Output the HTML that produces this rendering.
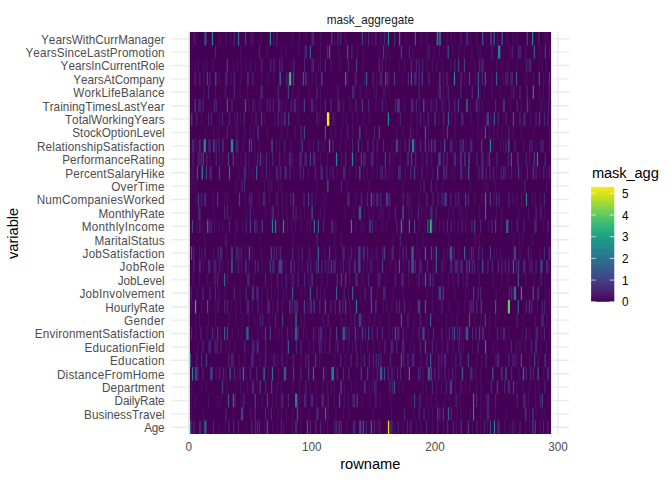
<!DOCTYPE html><html><head><meta charset="utf-8"><style>
html,body{margin:0;padding:0;background:#fff;width:672px;height:480px;overflow:hidden}
body{position:relative;font-family:"Liberation Sans",sans-serif}
.t{position:absolute;white-space:nowrap;font-kerning:none}
</style></head><body><svg width="672" height="480" style="position:absolute;left:0;top:0"><line x1="171.3" x2="569.3" y1="38.70" y2="38.70" stroke="#ebebeb" stroke-width="1.42"/><line x1="171.3" x2="569.3" y1="52.10" y2="52.10" stroke="#ebebeb" stroke-width="1.42"/><line x1="171.3" x2="569.3" y1="65.50" y2="65.50" stroke="#ebebeb" stroke-width="1.42"/><line x1="171.3" x2="569.3" y1="78.90" y2="78.90" stroke="#ebebeb" stroke-width="1.42"/><line x1="171.3" x2="569.3" y1="92.30" y2="92.30" stroke="#ebebeb" stroke-width="1.42"/><line x1="171.3" x2="569.3" y1="105.70" y2="105.70" stroke="#ebebeb" stroke-width="1.42"/><line x1="171.3" x2="569.3" y1="119.10" y2="119.10" stroke="#ebebeb" stroke-width="1.42"/><line x1="171.3" x2="569.3" y1="132.50" y2="132.50" stroke="#ebebeb" stroke-width="1.42"/><line x1="171.3" x2="569.3" y1="145.90" y2="145.90" stroke="#ebebeb" stroke-width="1.42"/><line x1="171.3" x2="569.3" y1="159.30" y2="159.30" stroke="#ebebeb" stroke-width="1.42"/><line x1="171.3" x2="569.3" y1="172.70" y2="172.70" stroke="#ebebeb" stroke-width="1.42"/><line x1="171.3" x2="569.3" y1="186.10" y2="186.10" stroke="#ebebeb" stroke-width="1.42"/><line x1="171.3" x2="569.3" y1="199.50" y2="199.50" stroke="#ebebeb" stroke-width="1.42"/><line x1="171.3" x2="569.3" y1="212.90" y2="212.90" stroke="#ebebeb" stroke-width="1.42"/><line x1="171.3" x2="569.3" y1="226.30" y2="226.30" stroke="#ebebeb" stroke-width="1.42"/><line x1="171.3" x2="569.3" y1="239.70" y2="239.70" stroke="#ebebeb" stroke-width="1.42"/><line x1="171.3" x2="569.3" y1="253.10" y2="253.10" stroke="#ebebeb" stroke-width="1.42"/><line x1="171.3" x2="569.3" y1="266.50" y2="266.50" stroke="#ebebeb" stroke-width="1.42"/><line x1="171.3" x2="569.3" y1="279.90" y2="279.90" stroke="#ebebeb" stroke-width="1.42"/><line x1="171.3" x2="569.3" y1="293.30" y2="293.30" stroke="#ebebeb" stroke-width="1.42"/><line x1="171.3" x2="569.3" y1="306.70" y2="306.70" stroke="#ebebeb" stroke-width="1.42"/><line x1="171.3" x2="569.3" y1="320.10" y2="320.10" stroke="#ebebeb" stroke-width="1.42"/><line x1="171.3" x2="569.3" y1="333.50" y2="333.50" stroke="#ebebeb" stroke-width="1.42"/><line x1="171.3" x2="569.3" y1="346.90" y2="346.90" stroke="#ebebeb" stroke-width="1.42"/><line x1="171.3" x2="569.3" y1="360.30" y2="360.30" stroke="#ebebeb" stroke-width="1.42"/><line x1="171.3" x2="569.3" y1="373.70" y2="373.70" stroke="#ebebeb" stroke-width="1.42"/><line x1="171.3" x2="569.3" y1="387.10" y2="387.10" stroke="#ebebeb" stroke-width="1.42"/><line x1="171.3" x2="569.3" y1="400.50" y2="400.50" stroke="#ebebeb" stroke-width="1.42"/><line x1="171.3" x2="569.3" y1="413.90" y2="413.90" stroke="#ebebeb" stroke-width="1.42"/><line x1="171.3" x2="569.3" y1="427.30" y2="427.30" stroke="#ebebeb" stroke-width="1.42"/><line x1="250.34" x2="250.34" y1="30.66" y2="435.04" stroke="#ebebeb" stroke-width="0.71"/><line x1="373.40" x2="373.40" y1="30.66" y2="435.04" stroke="#ebebeb" stroke-width="0.71"/><line x1="496.47" x2="496.47" y1="30.66" y2="435.04" stroke="#ebebeb" stroke-width="0.71"/><line x1="188.80" x2="188.80" y1="30.66" y2="435.04" stroke="#ebebeb" stroke-width="1.42"/><line x1="311.87" x2="311.87" y1="30.66" y2="435.04" stroke="#ebebeb" stroke-width="1.42"/><line x1="434.94" x2="434.94" y1="30.66" y2="435.04" stroke="#ebebeb" stroke-width="1.42"/><line x1="558.01" x2="558.01" y1="30.66" y2="435.04" stroke="#ebebeb" stroke-width="1.42"/><rect x="189.90" y="32.0" width="361.20" height="402.00" fill="#440154"/><path fill="#471063" d="M195.65 32.00H196.87v13.400H195.65zM218.40 32.00H219.62v13.400H218.40zM225.66 32.00H226.88v13.400H225.66zM229.99 32.00H231.21v13.400H229.99zM249.81 32.00H251.03v13.400H249.81zM251.20 32.00H252.42v13.400H251.20zM252.60 32.00H253.82v13.400H252.60zM260.70 32.00H261.92v13.400H260.70zM272.84 32.00H274.06v13.400H272.84zM240.04 45.40H241.26v13.400H240.04zM266.56 45.40H267.78v13.400H266.56zM194.67 58.80H195.89v13.400H194.67zM197.88 58.80H199.10v13.400H197.88zM203.05 58.80H204.27v13.400H203.05zM206.26 58.80H207.48v13.400H206.26zM212.12 58.80H213.34v13.400H212.12zM232.78 58.80H234.00v13.400H232.78zM236.55 58.80H237.77v13.400H236.55zM240.74 58.80H241.96v13.400H240.74zM245.62 58.80H246.84v13.400H245.62zM249.81 58.80H251.03v13.400H249.81zM254.69 58.80H255.91v13.400H254.69zM203.05 72.20H204.27v13.400H203.05zM218.82 72.20H220.04v13.400H218.82zM230.27 72.20H231.49v13.400H230.27zM240.32 72.20H241.54v13.400H240.32zM260.98 72.20H262.20v13.400H260.98zM267.26 72.20H268.48v13.400H267.26zM273.54 72.20H274.76v13.400H273.54zM203.05 85.60H204.27v13.400H203.05zM214.91 85.60H216.13v13.400H214.91zM224.40 85.60H225.62v13.400H224.40zM225.52 85.60H226.74v13.400H225.52zM239.34 85.60H240.56v13.400H239.34zM247.02 85.60H248.24v13.400H247.02zM291.95 32.00H293.17v13.400H291.95zM298.93 32.00H300.15v13.400H298.93zM305.21 32.00H306.43v13.400H305.21zM319.87 32.00H321.09v13.400H319.87zM333.83 32.00H335.05v13.400H333.83zM345.00 32.00H346.22v13.400H345.00zM364.54 32.00H365.76v13.400H364.54zM280.79 45.40H282.01v13.400H280.79zM285.67 45.40H286.89v13.400H285.67zM297.54 45.40H298.76v13.400H297.54zM319.87 45.40H321.09v13.400H319.87zM338.02 45.40H339.24v13.400H338.02zM356.86 45.40H358.08v13.400H356.86zM363.14 45.40H364.36v13.400H363.14zM291.25 58.80H292.47v13.400H291.25zM317.78 58.80H319.00v13.400H317.78zM319.87 58.80H321.09v13.400H319.87zM331.04 58.80H332.26v13.400H331.04zM339.41 58.80H340.63v13.400H339.41zM362.44 58.80H363.66v13.400H362.44zM307.31 72.20H308.53v13.400H307.31zM311.49 72.20H312.71v13.400H311.49zM315.68 72.20H316.90v13.400H315.68zM347.09 72.20H348.31v13.400H347.09zM356.16 72.20H357.38v13.400H356.16zM363.84 72.20H365.06v13.400H363.84zM291.95 85.60H293.17v13.400H291.95zM297.54 85.60H298.76v13.400H297.54zM308.70 85.60H309.92v13.400H308.70zM319.87 85.60H321.09v13.400H319.87zM359.65 85.60H360.87v13.400H359.65zM365.93 85.60H367.15v13.400H365.93zM371.79 32.00H373.01v13.400H371.79zM379.88 32.00H381.10v13.400H379.88zM382.25 32.00H383.47v13.400H382.25zM405.29 32.00H406.51v13.400H405.29zM420.64 32.00H421.86v13.400H420.64zM426.22 32.00H427.44v13.400H426.22zM446.46 32.00H447.68v13.400H446.46zM450.65 32.00H451.87v13.400H450.65zM454.14 32.00H455.36v13.400H454.14zM459.73 32.00H460.95v13.400H459.73zM378.77 45.40H379.99v13.400H378.77zM385.74 45.40H386.96v13.400H385.74zM388.54 45.40H389.76v13.400H388.54zM412.27 45.40H413.49v13.400H412.27zM425.95 45.40H427.17v13.400H425.95zM433.20 45.40H434.42v13.400H433.20zM438.79 45.40H440.01v13.400H438.79zM452.05 45.40H453.27v13.400H452.05zM458.33 45.40H459.55v13.400H458.33zM385.05 58.80H386.27v13.400H385.05zM399.01 58.80H400.23v13.400H399.01zM403.89 58.80H405.11v13.400H403.89zM426.22 58.80H427.44v13.400H426.22zM431.81 58.80H433.03v13.400H431.81zM436.00 58.80H437.22v13.400H436.00zM441.58 58.80H442.80v13.400H441.58zM449.95 58.80H451.17v13.400H449.95zM375.97 72.20H377.19v13.400H375.97zM388.54 72.20H389.76v13.400H388.54zM402.22 72.20H403.44v13.400H402.22zM442.98 72.20H444.20v13.400H442.98zM459.73 72.20H460.95v13.400H459.73zM373.88 85.60H375.10v13.400H373.88zM375.97 85.60H377.19v13.400H375.97zM382.95 85.60H384.17v13.400H382.95zM384.35 85.60H385.57v13.400H384.35zM437.11 85.60H438.33v13.400H437.11zM442.98 85.60H444.20v13.400H442.98zM460.42 85.60H461.64v13.400H460.42zM460.79 32.00H462.01v13.400H460.79zM469.86 32.00H471.08v13.400H469.86zM476.14 32.00H477.36v13.400H476.14zM485.91 32.00H487.13v13.400H485.91zM496.80 32.00H498.02v13.400H496.80zM506.85 32.00H508.07v13.400H506.85zM512.43 32.00H513.65v13.400H512.43zM516.62 32.00H517.84v13.400H516.62zM544.54 32.00H545.76v13.400H544.54zM547.33 32.00H548.55v13.400H547.33zM463.58 45.40H464.80v13.400H463.58zM471.25 45.40H472.47v13.400H471.25zM477.54 45.40H478.76v13.400H477.54zM479.63 45.40H480.85v13.400H479.63zM509.64 45.40H510.86v13.400H509.64zM525.00 45.40H526.22v13.400H525.00zM539.65 45.40H540.87v13.400H539.65zM548.73 45.40H549.95v13.400H548.73zM474.05 58.80H475.27v13.400H474.05zM496.38 58.80H497.60v13.400H496.38zM501.27 58.80H502.49v13.400H501.27zM507.55 58.80H508.77v13.400H507.55zM516.34 58.80H517.56v13.400H516.34zM541.75 58.80H542.97v13.400H541.75zM545.93 58.80H547.15v13.400H545.93zM464.28 72.20H465.50v13.400H464.28zM474.74 72.20H475.96v13.400H474.74zM491.22 72.20H492.44v13.400H491.22zM502.66 72.20H503.88v13.400H502.66zM525.69 72.20H526.91v13.400H525.69zM532.67 72.20H533.89v13.400H532.67zM543.14 72.20H544.36v13.400H543.14zM479.63 85.60H480.85v13.400H479.63zM483.82 85.60H485.04v13.400H483.82zM491.49 85.60H492.71v13.400H491.49zM499.87 85.60H501.09v13.400H499.87zM511.04 85.60H512.26v13.400H511.04zM538.95 85.60H540.17v13.400H538.95zM543.14 85.60H544.36v13.400H543.14zM248.41 99.00H249.63v13.400H248.41zM254.69 99.00H255.91v13.400H254.69zM258.18 99.00H259.40v13.400H258.18zM260.28 99.00H261.50v13.400H260.28zM200.95 112.40H202.17v13.400H200.95zM219.10 112.40H220.32v13.400H219.10zM233.76 112.40H234.98v13.400H233.76zM239.76 112.40H240.98v13.400H239.76zM251.20 112.40H252.42v13.400H251.20zM263.77 112.40H264.99v13.400H263.77zM274.24 112.40H275.46v13.400H274.24zM205.14 125.80H206.36v13.400H205.14zM212.82 125.80H214.04v13.400H212.82zM217.70 125.80H218.92v13.400H217.70zM230.27 125.80H231.49v13.400H230.27zM235.85 125.80H237.07v13.400H235.85zM237.25 125.80H238.47v13.400H237.25zM244.22 125.80H245.44v13.400H244.22zM249.81 125.80H251.03v13.400H249.81zM253.30 125.80H254.52v13.400H253.30zM266.56 125.80H267.78v13.400H266.56zM196.49 139.20H197.71v13.400H196.49zM242.83 139.20H244.05v13.400H242.83zM254.00 139.20H255.22v13.400H254.00zM258.88 139.20H260.10v13.400H258.88zM275.63 139.20H276.85v13.400H275.63zM279.12 139.20H280.34v13.400H279.12zM209.33 152.60H210.55v13.400H209.33zM219.10 152.60H220.32v13.400H219.10zM221.89 152.60H223.11v13.400H221.89zM236.55 152.60H237.77v13.400H236.55zM240.74 152.60H241.96v13.400H240.74zM248.41 152.60H249.63v13.400H248.41zM254.00 152.60H255.22v13.400H254.00zM262.37 152.60H263.59v13.400H262.37zM268.65 152.60H269.87v13.400H268.65zM281.48 99.00H282.70v13.400H281.48zM284.97 99.00H286.19v13.400H284.97zM297.54 99.00H298.76v13.400H297.54zM315.68 99.00H316.90v13.400H315.68zM319.87 99.00H321.09v13.400H319.87zM342.90 99.00H344.12v13.400H342.90zM349.88 99.00H351.10v13.400H349.88zM280.79 112.40H282.01v13.400H280.79zM297.54 112.40H298.76v13.400H297.54zM319.17 112.40H320.39v13.400H319.17zM334.53 112.40H335.75v13.400H334.53zM342.20 112.40H343.42v13.400H342.20zM345.69 112.40H346.91v13.400H345.69zM351.98 112.40H353.20v13.400H351.98zM356.86 112.40H358.08v13.400H356.86zM363.14 112.40H364.36v13.400H363.14zM368.73 112.40H369.95v13.400H368.73zM280.79 125.80H282.01v13.400H280.79zM287.07 125.80H288.29v13.400H287.07zM294.74 125.80H295.96v13.400H294.74zM330.34 125.80H331.56v13.400H330.34zM335.22 125.80H336.44v13.400H335.22zM340.81 125.80H342.03v13.400H340.81zM351.98 125.80H353.20v13.400H351.98zM365.93 125.80H367.15v13.400H365.93zM289.86 139.20H291.08v13.400H289.86zM299.63 139.20H300.85v13.400H299.63zM308.70 139.20H309.92v13.400H308.70zM312.89 139.20H314.11v13.400H312.89zM321.27 139.20H322.49v13.400H321.27zM324.06 139.20H325.28v13.400H324.06zM339.41 139.20H340.63v13.400H339.41zM345.00 139.20H346.22v13.400H345.00zM361.75 139.20H362.97v13.400H361.75zM283.58 152.60H284.80v13.400H283.58zM291.95 152.60H293.17v13.400H291.95zM319.87 152.60H321.09v13.400H319.87zM326.85 152.60H328.07v13.400H326.85zM340.81 152.60H342.03v13.400H340.81zM355.46 152.60H356.68v13.400H355.46zM370.12 152.60H371.34v13.400H370.12zM375.28 99.00H376.50v13.400H375.28zM385.74 99.00H386.96v13.400H385.74zM403.89 99.00H405.11v13.400H403.89zM418.55 99.00H419.77v13.400H418.55zM426.22 99.00H427.44v13.400H426.22zM432.51 99.00H433.73v13.400H432.51zM444.37 99.00H445.59v13.400H444.37zM410.87 112.40H412.09v13.400H410.87zM416.45 112.40H417.67v13.400H416.45zM423.43 112.40H424.65v13.400H423.43zM438.09 112.40H439.31v13.400H438.09zM450.65 112.40H451.87v13.400H450.65zM454.84 112.40H456.06v13.400H454.84zM396.21 125.80H397.43v13.400H396.21zM402.49 125.80H403.71v13.400H402.49zM416.45 125.80H417.67v13.400H416.45zM427.62 125.80H428.84v13.400H427.62zM442.98 125.80H444.20v13.400H442.98zM454.14 125.80H455.36v13.400H454.14zM391.33 139.20H392.55v13.400H391.33zM399.70 139.20H400.92v13.400H399.70zM415.06 139.20H416.28v13.400H415.06zM440.18 139.20H441.40v13.400H440.18zM455.54 139.20H456.76v13.400H455.54zM376.67 152.60H377.89v13.400H376.67zM393.42 152.60H394.64v13.400H393.42zM399.70 152.60H400.92v13.400H399.70zM422.04 152.60H423.26v13.400H422.04zM430.41 152.60H431.63v13.400H430.41zM469.86 99.00H471.08v13.400H469.86zM478.93 99.00H480.15v13.400H478.93zM481.72 99.00H482.94v13.400H481.72zM509.64 99.00H510.86v13.400H509.64zM520.81 99.00H522.03v13.400H520.81zM529.18 99.00H530.40v13.400H529.18zM539.65 99.00H540.87v13.400H539.65zM541.75 99.00H542.97v13.400H541.75zM544.54 99.00H545.76v13.400H544.54zM470.56 112.40H471.78v13.400H470.56zM477.54 112.40H478.76v13.400H477.54zM490.10 112.40H491.32v13.400H490.10zM529.88 112.40H531.10v13.400H529.88zM477.54 125.80H478.76v13.400H477.54zM481.03 125.80H482.25v13.400H481.03zM488.70 125.80H489.92v13.400H488.70zM492.89 125.80H494.11v13.400H492.89zM497.08 125.80H498.30v13.400H497.08zM501.27 125.80H502.49v13.400H501.27zM512.43 125.80H513.65v13.400H512.43zM520.81 125.80H522.03v13.400H520.81zM533.37 125.80H534.59v13.400H533.37zM548.73 125.80H549.95v13.400H548.73zM465.67 139.20H466.89v13.400H465.67zM492.89 139.20H494.11v13.400H492.89zM499.87 139.20H501.09v13.400H499.87zM502.66 139.20H503.88v13.400H502.66zM522.90 139.20H524.12v13.400H522.90zM535.46 139.20H536.68v13.400H535.46zM548.73 139.20H549.95v13.400H548.73zM486.61 152.60H487.83v13.400H486.61zM529.18 152.60H530.40v13.400H529.18zM191.46 166.00H192.68v13.400H191.46zM193.14 166.00H194.36v13.400H193.14zM237.94 166.00H239.16v13.400H237.94zM248.41 166.00H249.63v13.400H248.41zM251.90 166.00H253.12v13.400H251.90zM261.67 166.00H262.89v13.400H261.67zM269.35 166.00H270.57v13.400H269.35zM279.12 166.00H280.34v13.400H279.12zM191.18 179.40H192.40v13.400H191.18zM194.67 179.40H195.89v13.400H194.67zM235.15 179.40H236.37v13.400H235.15zM263.77 179.40H264.99v13.400H263.77zM267.95 179.40H269.17v13.400H267.95zM270.75 179.40H271.97v13.400H270.75zM277.73 179.40H278.95v13.400H277.73zM195.37 192.80H196.59v13.400H195.37zM212.82 192.80H214.04v13.400H212.82zM224.40 192.80H225.62v13.400H224.40zM226.78 192.80H228.00v13.400H226.78zM244.22 192.80H245.44v13.400H244.22zM258.88 192.80H260.10v13.400H258.88zM268.65 192.80H269.87v13.400H268.65zM213.52 206.20H214.74v13.400H213.52zM230.27 206.20H231.49v13.400H230.27zM245.62 206.20H246.84v13.400H245.62zM265.16 206.20H266.38v13.400H265.16zM277.73 206.20H278.95v13.400H277.73zM196.49 219.60H197.71v13.400H196.49zM202.35 219.60H203.57v13.400H202.35zM214.21 219.60H215.43v13.400H214.21zM218.40 219.60H219.62v13.400H218.40zM221.89 219.60H223.11v13.400H221.89zM235.15 219.60H236.37v13.400H235.15zM236.55 219.60H237.77v13.400H236.55zM242.13 219.60H243.35v13.400H242.13zM257.07 219.60H258.29v13.400H257.07zM278.42 219.60H279.64v13.400H278.42zM293.35 166.00H294.57v13.400H293.35zM308.01 166.00H309.23v13.400H308.01zM329.64 166.00H330.86v13.400H329.64zM336.62 166.00H337.84v13.400H336.62zM349.18 166.00H350.40v13.400H349.18zM355.46 166.00H356.68v13.400H355.46zM363.14 166.00H364.36v13.400H363.14zM366.63 166.00H367.85v13.400H366.63zM280.79 179.40H282.01v13.400H280.79zM316.38 179.40H317.60v13.400H316.38zM346.39 179.40H347.61v13.400H346.39zM368.73 179.40H369.95v13.400H368.73zM281.90 192.80H283.12v13.400H281.90zM286.37 192.80H287.59v13.400H286.37zM314.98 192.80H316.20v13.400H314.98zM322.66 192.80H323.88v13.400H322.66zM325.45 192.80H326.67v13.400H325.45zM355.46 192.80H356.68v13.400H355.46zM281.90 206.20H283.12v13.400H281.90zM286.37 206.20H287.59v13.400H286.37zM299.63 206.20H300.85v13.400H299.63zM303.82 206.20H305.04v13.400H303.82zM319.87 206.20H321.09v13.400H319.87zM324.06 206.20H325.28v13.400H324.06zM344.72 206.20H345.94v13.400H344.72zM353.37 206.20H354.59v13.400H353.37zM363.84 206.20H365.06v13.400H363.84zM368.73 206.20H369.95v13.400H368.73zM287.07 219.60H288.29v13.400H287.07zM291.25 219.60H292.47v13.400H291.25zM294.74 219.60H295.96v13.400H294.74zM300.33 219.60H301.55v13.400H300.33zM306.61 219.60H307.83v13.400H306.61zM309.82 219.60H311.04v13.400H309.82zM335.22 219.60H336.44v13.400H335.22zM354.77 219.60H355.99v13.400H354.77zM360.35 219.60H361.57v13.400H360.35zM363.14 219.60H364.36v13.400H363.14zM371.79 166.00H373.01v13.400H371.79zM376.67 166.00H377.89v13.400H376.67zM388.54 166.00H389.76v13.400H388.54zM391.33 166.00H392.55v13.400H391.33zM404.59 166.00H405.81v13.400H404.59zM417.15 166.00H418.37v13.400H417.15zM426.22 166.00H427.44v13.400H426.22zM431.81 166.00H433.03v13.400H431.81zM451.35 166.00H452.57v13.400H451.35zM454.14 166.00H455.36v13.400H454.14zM402.49 179.40H403.71v13.400H402.49zM419.94 179.40H421.16v13.400H419.94zM436.00 179.40H437.22v13.400H436.00zM441.58 179.40H442.80v13.400H441.58zM410.17 192.80H411.39v13.400H410.17zM418.55 192.80H419.77v13.400H418.55zM372.48 206.20H373.70v13.400H372.48zM378.07 206.20H379.29v13.400H378.07zM380.16 206.20H381.38v13.400H380.16zM382.25 206.20H383.47v13.400H382.25zM388.54 206.20H389.76v13.400H388.54zM408.08 206.20H409.30v13.400H408.08zM410.87 206.20H412.09v13.400H410.87zM420.64 206.20H421.86v13.400H420.64zM425.53 206.20H426.75v13.400H425.53zM447.86 206.20H449.08v13.400H447.86zM452.75 206.20H453.97v13.400H452.75zM459.03 206.20H460.25v13.400H459.03zM375.28 219.60H376.50v13.400H375.28zM381.56 219.60H382.78v13.400H381.56zM385.74 219.60H386.96v13.400H385.74zM402.49 219.60H403.71v13.400H402.49zM418.55 219.60H419.77v13.400H418.55zM424.13 219.60H425.35v13.400H424.13zM434.60 219.60H435.82v13.400H434.60zM438.79 219.60H440.01v13.400H438.79zM442.98 219.60H444.20v13.400H442.98zM454.14 219.60H455.36v13.400H454.14zM457.63 219.60H458.85v13.400H457.63zM464.97 166.00H466.19v13.400H464.97zM495.96 166.00H497.18v13.400H495.96zM507.55 166.00H508.77v13.400H507.55zM514.53 166.00H515.75v13.400H514.53zM520.81 166.00H522.03v13.400H520.81zM538.95 166.00H540.17v13.400H538.95zM545.93 166.00H547.15v13.400H545.93zM469.86 179.40H471.08v13.400H469.86zM484.52 179.40H485.74v13.400H484.52zM487.31 179.40H488.53v13.400H487.31zM494.98 179.40H496.20v13.400H494.98zM545.93 179.40H547.15v13.400H545.93zM474.05 192.80H475.27v13.400H474.05zM481.03 192.80H482.25v13.400H481.03zM493.59 192.80H494.81v13.400H493.59zM511.74 192.80H512.96v13.400H511.74zM516.62 192.80H517.84v13.400H516.62zM520.81 192.80H522.03v13.400H520.81zM531.98 192.80H533.20v13.400H531.98zM534.77 192.80H535.99v13.400H534.77zM539.65 192.80H540.87v13.400H539.65zM461.48 206.20H462.70v13.400H461.48zM465.67 206.20H466.89v13.400H465.67zM478.93 206.20H480.15v13.400H478.93zM495.68 206.20H496.90v13.400H495.68zM501.27 206.20H502.49v13.400H501.27zM518.02 206.20H519.24v13.400H518.02zM527.79 206.20H529.01v13.400H527.79zM544.54 206.20H545.76v13.400H544.54zM464.97 219.60H466.19v13.400H464.97zM488.01 219.60H489.23v13.400H488.01zM500.57 219.60H501.79v13.400H500.57zM511.04 219.60H512.26v13.400H511.04zM543.14 219.60H544.36v13.400H543.14zM204.44 233.00H205.66v13.400H204.44zM234.45 233.00H235.67v13.400H234.45zM198.86 246.40H200.08v13.400H198.86zM201.23 246.40H202.45v13.400H201.23zM212.82 246.40H214.04v13.400H212.82zM226.08 246.40H227.30v13.400H226.08zM238.92 246.40H240.14v13.400H238.92zM244.92 246.40H246.14v13.400H244.92zM251.90 246.40H253.12v13.400H251.90zM260.28 246.40H261.50v13.400H260.28zM279.12 246.40H280.34v13.400H279.12zM202.35 259.80H203.57v13.400H202.35zM221.89 259.80H223.11v13.400H221.89zM226.78 259.80H228.00v13.400H226.78zM235.15 259.80H236.37v13.400H235.15zM240.74 259.80H241.96v13.400H240.74zM248.41 259.80H249.63v13.400H248.41zM261.67 259.80H262.89v13.400H261.67zM192.58 273.20H193.80v13.400H192.58zM198.86 273.20H200.08v13.400H198.86zM206.54 273.20H207.76v13.400H206.54zM226.78 273.20H228.00v13.400H226.78zM252.60 273.20H253.82v13.400H252.60zM270.75 273.20H271.97v13.400H270.75zM196.77 286.60H197.99v13.400H196.77zM218.40 286.60H219.62v13.400H218.40zM224.68 286.60H225.90v13.400H224.68zM239.34 286.60H240.56v13.400H239.34zM261.67 286.60H262.89v13.400H261.67zM266.56 286.60H267.78v13.400H266.56zM270.75 286.60H271.97v13.400H270.75zM277.73 286.60H278.95v13.400H277.73zM292.65 233.00H293.87v13.400H292.65zM333.83 233.00H335.05v13.400H333.83zM340.81 233.00H342.03v13.400H340.81zM298.23 246.40H299.45v13.400H298.23zM324.06 246.40H325.28v13.400H324.06zM335.22 246.40H336.44v13.400H335.22zM347.09 246.40H348.31v13.400H347.09zM354.77 246.40H355.99v13.400H354.77zM284.97 259.80H286.19v13.400H284.97zM298.23 259.80H299.45v13.400H298.23zM301.72 259.80H302.94v13.400H301.72zM313.59 259.80H314.81v13.400H313.59zM340.11 259.80H341.33v13.400H340.11zM346.39 259.80H347.61v13.400H346.39zM363.14 259.80H364.36v13.400H363.14zM366.63 259.80H367.85v13.400H366.63zM281.48 273.20H282.70v13.400H281.48zM290.56 273.20H291.78v13.400H290.56zM308.70 273.20H309.92v13.400H308.70zM321.27 273.20H322.49v13.400H321.27zM326.85 273.20H328.07v13.400H326.85zM349.18 273.20H350.40v13.400H349.18zM361.75 273.20H362.97v13.400H361.75zM282.88 286.60H284.10v13.400H282.88zM285.67 286.60H286.89v13.400H285.67zM300.33 286.60H301.55v13.400H300.33zM304.52 286.60H305.74v13.400H304.52zM319.87 286.60H321.09v13.400H319.87zM324.06 286.60H325.28v13.400H324.06zM347.79 286.60H349.01v13.400H347.79zM360.35 286.60H361.57v13.400H360.35zM392.72 233.00H393.94v13.400H392.72zM416.45 233.00H417.67v13.400H416.45zM422.04 233.00H423.26v13.400H422.04zM447.86 233.00H449.08v13.400H447.86zM371.79 246.40H373.01v13.400H371.79zM375.28 246.40H376.50v13.400H375.28zM376.67 246.40H377.89v13.400H376.67zM399.01 246.40H400.23v13.400H399.01zM416.45 246.40H417.67v13.400H416.45zM419.25 246.40H420.47v13.400H419.25zM433.20 246.40H434.42v13.400H433.20zM442.98 246.40H444.20v13.400H442.98zM446.46 246.40H447.68v13.400H446.46zM458.33 246.40H459.55v13.400H458.33zM371.79 259.80H373.01v13.400H371.79zM377.37 259.80H378.59v13.400H377.37zM389.93 259.80H391.15v13.400H389.93zM394.82 259.80H396.04v13.400H394.82zM402.49 259.80H403.71v13.400H402.49zM432.51 259.80H433.73v13.400H432.51zM444.37 259.80H445.59v13.400H444.37zM385.05 273.20H386.27v13.400H385.05zM408.08 273.20H409.30v13.400H408.08zM416.45 273.20H417.67v13.400H416.45zM422.04 273.20H423.26v13.400H422.04zM427.62 273.20H428.84v13.400H427.62zM441.58 273.20H442.80v13.400H441.58zM447.86 273.20H449.08v13.400H447.86zM452.75 273.20H453.97v13.400H452.75zM376.67 286.60H377.89v13.400H376.67zM392.72 286.60H393.94v13.400H392.72zM402.49 286.60H403.71v13.400H402.49zM426.22 286.60H427.44v13.400H426.22zM431.81 286.60H433.03v13.400H431.81zM454.14 286.60H455.36v13.400H454.14zM474.74 233.00H475.96v13.400H474.74zM478.93 233.00H480.15v13.400H478.93zM513.13 233.00H514.35v13.400H513.13zM518.71 233.00H519.93v13.400H518.71zM521.51 233.00H522.73v13.400H521.51zM531.98 233.00H533.20v13.400H531.98zM546.63 233.00H547.85v13.400H546.63zM493.59 246.40H494.81v13.400H493.59zM496.38 246.40H497.60v13.400H496.38zM499.87 246.40H501.09v13.400H499.87zM519.41 246.40H520.63v13.400H519.41zM530.58 246.40H531.80v13.400H530.58zM539.65 246.40H540.87v13.400H539.65zM477.54 259.80H478.76v13.400H477.54zM462.88 273.20H464.10v13.400H462.88zM478.93 273.20H480.15v13.400H478.93zM492.89 273.20H494.11v13.400H492.89zM501.27 273.20H502.49v13.400H501.27zM507.55 273.20H508.77v13.400H507.55zM525.00 273.20H526.22v13.400H525.00zM533.37 273.20H534.59v13.400H533.37zM544.54 273.20H545.76v13.400H544.54zM464.97 286.60H466.19v13.400H464.97zM495.68 286.60H496.90v13.400H495.68zM544.54 286.60H545.76v13.400H544.54zM548.73 286.60H549.95v13.400H548.73zM191.18 300.00H192.40v13.400H191.18zM200.95 300.00H202.17v13.400H200.95zM214.21 300.00H215.43v13.400H214.21zM216.31 300.00H217.53v13.400H216.31zM217.98 300.00H219.20v13.400H217.98zM230.27 300.00H231.49v13.400H230.27zM235.85 300.00H237.07v13.400H235.85zM240.04 300.00H241.26v13.400H240.04zM251.90 300.00H253.12v13.400H251.90zM260.98 300.00H262.20v13.400H260.98zM272.14 300.00H273.36v13.400H272.14zM195.37 313.40H196.59v13.400H195.37zM198.86 313.40H200.08v13.400H198.86zM207.93 313.40H209.15v13.400H207.93zM214.91 313.40H216.13v13.400H214.91zM228.17 313.40H229.39v13.400H228.17zM235.15 313.40H236.37v13.400H235.15zM242.13 313.40H243.35v13.400H242.13zM248.41 313.40H249.63v13.400H248.41zM254.00 313.40H255.22v13.400H254.00zM269.35 313.40H270.57v13.400H269.35zM195.37 326.80H196.59v13.400H195.37zM206.54 326.80H207.76v13.400H206.54zM213.79 326.80H215.01v13.400H213.79zM219.80 326.80H221.02v13.400H219.80zM231.66 326.80H232.88v13.400H231.66zM237.94 326.80H239.16v13.400H237.94zM241.43 326.80H242.65v13.400H241.43zM251.20 326.80H252.42v13.400H251.20zM257.49 326.80H258.71v13.400H257.49zM261.67 326.80H262.89v13.400H261.67zM274.93 326.80H276.15v13.400H274.93zM278.42 326.80H279.64v13.400H278.42zM197.46 340.20H198.68v13.400H197.46zM217.70 340.20H218.92v13.400H217.70zM225.38 340.20H226.60v13.400H225.38zM228.87 340.20H230.09v13.400H228.87zM234.45 340.20H235.67v13.400H234.45zM238.64 353.60H239.86v13.400H238.64zM244.22 353.60H245.44v13.400H244.22zM253.44 353.60H254.66v13.400H253.44zM259.58 353.60H260.80v13.400H259.58zM276.33 353.60H277.55v13.400H276.33zM281.90 300.00H283.12v13.400H281.90zM306.61 300.00H307.83v13.400H306.61zM349.18 300.00H350.40v13.400H349.18zM290.56 313.40H291.78v13.400H290.56zM300.33 313.40H301.55v13.400H300.33zM303.82 313.40H305.04v13.400H303.82zM322.66 313.40H323.88v13.400H322.66zM340.81 313.40H342.03v13.400H340.81zM345.00 313.40H346.22v13.400H345.00zM350.58 313.40H351.80v13.400H350.58zM363.14 313.40H364.36v13.400H363.14zM368.73 313.40H369.95v13.400H368.73zM281.48 326.80H282.70v13.400H281.48zM291.25 326.80H292.47v13.400H291.25zM303.12 326.80H304.34v13.400H303.12zM305.91 326.80H307.13v13.400H305.91zM314.98 326.80H316.20v13.400H314.98zM324.76 326.80H325.98v13.400H324.76zM357.56 326.80H358.78v13.400H357.56zM281.48 340.20H282.70v13.400H281.48zM308.70 340.20H309.92v13.400H308.70zM312.89 340.20H314.11v13.400H312.89zM324.06 340.20H325.28v13.400H324.06zM335.22 340.20H336.44v13.400H335.22zM342.90 340.20H344.12v13.400H342.90zM347.79 340.20H349.01v13.400H347.79zM351.98 340.20H353.20v13.400H351.98zM360.35 340.20H361.57v13.400H360.35zM366.63 340.20H367.85v13.400H366.63zM286.37 353.60H287.59v13.400H286.37zM300.33 353.60H301.55v13.400H300.33zM319.17 353.60H320.39v13.400H319.17zM333.83 353.60H335.05v13.400H333.83zM345.00 353.60H346.22v13.400H345.00zM361.05 353.60H362.27v13.400H361.05zM382.95 300.00H384.17v13.400H382.95zM386.44 300.00H387.66v13.400H386.44zM391.33 300.00H392.55v13.400H391.33zM409.47 300.00H410.69v13.400H409.47zM431.81 300.00H433.03v13.400H431.81zM448.56 300.00H449.78v13.400H448.56zM457.63 300.00H458.85v13.400H457.63zM373.88 313.40H375.10v13.400H373.88zM378.77 313.40H379.99v13.400H378.77zM388.54 313.40H389.76v13.400H388.54zM413.66 313.40H414.88v13.400H413.66zM426.22 313.40H427.44v13.400H426.22zM445.77 313.40H446.99v13.400H445.77zM451.35 313.40H452.57v13.400H451.35zM456.24 313.40H457.46v13.400H456.24zM388.54 326.80H389.76v13.400H388.54zM392.03 326.80H393.25v13.400H392.03zM405.98 326.80H407.20v13.400H405.98zM412.27 326.80H413.49v13.400H412.27zM427.62 326.80H428.84v13.400H427.62zM445.77 326.80H446.99v13.400H445.77zM373.18 340.20H374.40v13.400H373.18zM378.77 340.20H379.99v13.400H378.77zM409.47 340.20H410.69v13.400H409.47zM413.66 340.20H414.88v13.400H413.66zM436.00 340.20H437.22v13.400H436.00zM441.58 340.20H442.80v13.400H441.58zM452.75 340.20H453.97v13.400H452.75zM420.64 353.60H421.86v13.400H420.64zM451.35 353.60H452.57v13.400H451.35zM464.28 300.00H465.50v13.400H464.28zM536.86 300.00H538.08v13.400H536.86zM548.73 300.00H549.95v13.400H548.73zM474.05 313.40H475.27v13.400H474.05zM480.33 313.40H481.55v13.400H480.33zM488.70 313.40H489.92v13.400H488.70zM494.98 313.40H496.20v13.400H494.98zM522.90 313.40H524.12v13.400H522.90zM534.77 313.40H535.99v13.400H534.77zM546.63 313.40H547.85v13.400H546.63zM460.79 326.80H462.01v13.400H460.79zM463.58 326.80H464.80v13.400H463.58zM488.70 326.80H489.92v13.400H488.70zM500.15 326.80H501.37v13.400H500.15zM508.25 326.80H509.47v13.400H508.25zM521.51 326.80H522.73v13.400H521.51zM529.18 326.80H530.40v13.400H529.18zM540.35 326.80H541.57v13.400H540.35zM548.73 326.80H549.95v13.400H548.73zM460.79 340.20H462.01v13.400H460.79zM462.88 340.20H464.10v13.400H462.88zM471.95 340.20H473.17v13.400H471.95zM492.89 340.20H494.11v13.400H492.89zM496.80 340.20H498.02v13.400H496.80zM505.45 340.20H506.67v13.400H505.45zM515.92 340.20H517.14v13.400H515.92zM519.41 340.20H520.63v13.400H519.41zM525.00 340.20H526.22v13.400H525.00zM540.35 340.20H541.57v13.400H540.35zM545.93 340.20H547.15v13.400H545.93zM461.48 353.60H462.70v13.400H461.48zM476.14 353.60H477.36v13.400H476.14zM481.03 353.60H482.25v13.400H481.03zM494.98 353.60H496.20v13.400H494.98zM516.90 353.60H518.12v13.400H516.90zM529.18 353.60H530.40v13.400H529.18zM537.56 353.60H538.78v13.400H537.56zM548.73 353.60H549.95v13.400H548.73zM215.61 367.00H216.83v13.400H215.61zM225.38 367.00H226.60v13.400H225.38zM236.55 367.00H237.77v13.400H236.55zM245.62 367.00H246.84v13.400H245.62zM267.95 367.00H269.17v13.400H267.95zM277.73 367.00H278.95v13.400H277.73zM191.18 380.40H192.40v13.400H191.18zM200.95 380.40H202.17v13.400H200.95zM205.84 380.40H207.06v13.400H205.84zM226.08 380.40H227.30v13.400H226.08zM235.85 380.40H237.07v13.400H235.85zM240.04 380.40H241.26v13.400H240.04zM247.02 380.40H248.24v13.400H247.02zM256.79 380.40H258.01v13.400H256.79zM276.33 380.40H277.55v13.400H276.33zM190.48 393.80H191.70v13.400H190.48zM194.67 393.80H195.89v13.400H194.67zM207.93 393.80H209.15v13.400H207.93zM217.01 393.80H218.23v13.400H217.01zM220.49 393.80H221.71v13.400H220.49zM241.43 393.80H242.65v13.400H241.43zM261.67 393.80H262.89v13.400H261.67zM272.14 393.80H273.36v13.400H272.14zM275.63 393.80H276.85v13.400H275.63zM190.48 407.20H191.70v13.400H190.48zM202.35 407.20H203.57v13.400H202.35zM233.06 407.20H234.28v13.400H233.06zM249.81 407.20H251.03v13.400H249.81zM267.95 407.20H269.17v13.400H267.95zM277.73 407.20H278.95v13.400H277.73zM218.40 420.60H219.62v13.400H218.40zM224.68 420.60H225.90v13.400H224.68zM245.62 420.60H246.84v13.400H245.62zM264.46 420.60H265.68v13.400H264.46zM272.14 420.60H273.36v13.400H272.14zM276.33 420.60H277.55v13.400H276.33zM325.45 367.00H326.67v13.400H325.45zM280.79 380.40H282.01v13.400H280.79zM291.95 380.40H293.17v13.400H291.95zM298.93 380.40H300.15v13.400H298.93zM309.40 380.40H310.62v13.400H309.40zM314.98 380.40H316.20v13.400H314.98zM321.96 380.40H323.18v13.400H321.96zM326.85 380.40H328.07v13.400H326.85zM330.76 380.40H331.98v13.400H330.76zM333.83 380.40H335.05v13.400H333.83zM343.60 380.40H344.82v13.400H343.60zM350.58 380.40H351.80v13.400H350.58zM355.46 380.40H356.68v13.400H355.46zM368.73 380.40H369.95v13.400H368.73zM298.93 393.80H300.15v13.400H298.93zM316.38 393.80H317.60v13.400H316.38zM333.83 393.80H335.05v13.400H333.83zM343.60 393.80H344.82v13.400H343.60zM347.79 393.80H349.01v13.400H347.79zM361.75 393.80H362.97v13.400H361.75zM369.42 393.80H370.64v13.400H369.42zM280.79 407.20H282.01v13.400H280.79zM285.67 407.20H286.89v13.400H285.67zM291.95 407.20H293.17v13.400H291.95zM300.33 407.20H301.55v13.400H300.33zM308.70 407.20H309.92v13.400H308.70zM321.27 407.20H322.49v13.400H321.27zM327.55 407.20H328.77v13.400H327.55zM335.22 407.20H336.44v13.400H335.22zM342.90 407.20H344.12v13.400H342.90zM349.18 407.20H350.40v13.400H349.18zM282.88 420.60H284.10v13.400H282.88zM291.95 420.60H293.17v13.400H291.95zM300.33 420.60H301.55v13.400H300.33zM322.66 420.60H323.88v13.400H322.66zM326.85 420.60H328.07v13.400H326.85zM346.39 420.60H347.61v13.400H346.39zM372.48 367.00H373.70v13.400H372.48zM393.42 367.00H394.64v13.400H393.42zM405.29 367.00H406.51v13.400H405.29zM422.74 367.00H423.96v13.400H422.74zM440.88 367.00H442.10v13.400H440.88zM447.86 367.00H449.08v13.400H447.86zM454.84 367.00H456.06v13.400H454.84zM371.79 380.40H373.01v13.400H371.79zM398.31 380.40H399.53v13.400H398.31zM402.49 380.40H403.71v13.400H402.49zM422.04 380.40H423.26v13.400H422.04zM425.95 380.40H427.17v13.400H425.95zM436.00 380.40H437.22v13.400H436.00zM440.88 380.40H442.10v13.400H440.88zM454.84 380.40H456.06v13.400H454.84zM459.73 380.40H460.95v13.400H459.73zM379.46 393.80H380.68v13.400H379.46zM389.93 393.80H391.15v13.400H389.93zM410.87 393.80H412.09v13.400H410.87zM418.55 393.80H419.77v13.400H418.55zM426.92 393.80H428.14v13.400H426.92zM430.41 393.80H431.63v13.400H430.41zM436.00 393.80H437.22v13.400H436.00zM444.37 393.80H445.59v13.400H444.37zM449.26 393.80H450.48v13.400H449.26zM458.33 393.80H459.55v13.400H458.33zM373.18 407.20H374.40v13.400H373.18zM391.05 407.20H392.27v13.400H391.05zM413.66 407.20H414.88v13.400H413.66zM427.62 407.20H428.84v13.400H427.62zM431.81 407.20H433.03v13.400H431.81zM456.93 407.20H458.15v13.400H456.93zM460.42 407.20H461.64v13.400H460.42zM376.67 420.60H377.89v13.400H376.67zM394.12 420.60H395.34v13.400H394.12zM402.49 420.60H403.71v13.400H402.49zM415.76 420.60H416.98v13.400H415.76zM420.64 420.60H421.86v13.400H420.64zM431.81 420.60H433.03v13.400H431.81zM442.98 420.60H444.20v13.400H442.98zM455.54 420.60H456.76v13.400H455.54zM459.73 420.60H460.95v13.400H459.73zM474.74 367.00H475.96v13.400H474.74zM479.63 367.00H480.85v13.400H479.63zM518.02 367.00H519.24v13.400H518.02zM543.14 367.00H544.36v13.400H543.14zM460.79 380.40H462.01v13.400H460.79zM464.97 380.40H466.19v13.400H464.97zM469.16 380.40H470.38v13.400H469.16zM476.14 380.40H477.36v13.400H476.14zM480.33 380.40H481.55v13.400H480.33zM516.62 380.40H517.84v13.400H516.62zM522.20 380.40H523.42v13.400H522.20zM529.18 380.40H530.40v13.400H529.18zM534.77 380.40H535.99v13.400H534.77zM538.26 380.40H539.48v13.400H538.26zM480.33 393.80H481.55v13.400H480.33zM484.52 393.80H485.74v13.400H484.52zM527.79 393.80H529.01v13.400H527.79zM534.77 393.80H535.99v13.400H534.77zM547.33 393.80H548.55v13.400H547.33zM469.86 407.20H471.08v13.400H469.86zM480.33 407.20H481.55v13.400H480.33zM494.98 407.20H496.20v13.400H494.98zM505.45 407.20H506.67v13.400H505.45zM528.90 407.20H530.12v13.400H528.90zM535.46 407.20H536.68v13.400H535.46zM541.75 407.20H542.97v13.400H541.75zM544.54 407.20H545.76v13.400H544.54zM471.95 420.60H473.17v13.400H471.95zM480.33 420.60H481.55v13.400H480.33zM486.61 420.60H487.83v13.400H486.61zM504.06 420.60H505.28v13.400H504.06zM509.64 420.60H510.86v13.400H509.64zM515.22 420.60H516.44v13.400H515.22zM525.00 420.60H526.22v13.400H525.00zM529.18 420.60H530.40v13.400H529.18zM539.65 420.60H540.87v13.400H539.65z"/><path fill="#482576" d="M193.42 32.00H194.64v13.400H193.42zM233.76 32.00H234.98v13.400H233.76zM276.33 32.00H277.55v13.400H276.33zM214.91 45.40H216.13v13.400H214.91zM258.88 45.40H260.10v13.400H258.88zM260.98 58.80H262.20v13.400H260.98zM270.05 58.80H271.27v13.400H270.05zM273.54 58.80H274.76v13.400H273.54zM279.12 58.80H280.34v13.400H279.12zM194.67 72.20H195.89v13.400H194.67zM199.28 72.20H200.50v13.400H199.28zM209.33 72.20H210.55v13.400H209.33zM225.24 72.20H226.46v13.400H225.24zM226.36 72.20H227.58v13.400H226.36zM233.76 72.20H234.98v13.400H233.76zM252.32 72.20H253.54v13.400H252.32zM207.93 85.60H209.15v13.400H207.93zM233.76 85.60H234.98v13.400H233.76zM260.28 85.60H261.50v13.400H260.28zM261.67 85.60H262.89v13.400H261.67zM277.73 85.60H278.95v13.400H277.73zM311.49 32.00H312.71v13.400H311.49zM312.89 32.00H314.11v13.400H312.89zM337.32 32.00H338.54v13.400H337.32zM340.11 32.00H341.33v13.400H340.11zM368.03 32.00H369.25v13.400H368.03zM304.52 45.40H305.74v13.400H304.52zM305.91 45.40H307.13v13.400H305.91zM326.85 45.40H328.07v13.400H326.85zM351.28 45.40H352.50v13.400H351.28zM281.48 58.80H282.70v13.400H281.48zM293.35 58.80H294.57v13.400H293.35zM303.82 58.80H305.04v13.400H303.82zM311.49 58.80H312.71v13.400H311.49zM312.89 58.80H314.11v13.400H312.89zM324.76 58.80H325.98v13.400H324.76zM347.79 58.80H349.01v13.400H347.79zM286.09 72.20H287.31v13.400H286.09zM354.77 72.20H355.99v13.400H354.77zM316.38 85.60H317.60v13.400H316.38zM337.32 85.60H338.54v13.400H337.32zM351.98 85.60H353.20v13.400H351.98zM353.37 85.60H354.59v13.400H353.37zM375.28 32.00H376.50v13.400H375.28zM384.07 32.00H385.29v13.400H384.07zM394.12 32.00H395.34v13.400H394.12zM408.78 45.40H410.00v13.400H408.78zM428.32 45.40H429.54v13.400H428.32zM378.77 58.80H379.99v13.400H378.77zM381.56 58.80H382.78v13.400H381.56zM410.87 58.80H412.09v13.400H410.87zM415.76 58.80H416.98v13.400H415.76zM418.55 58.80H419.77v13.400H418.55zM422.04 58.80H423.26v13.400H422.04zM454.14 58.80H455.36v13.400H454.14zM372.48 72.20H373.70v13.400H372.48zM379.46 72.20H380.68v13.400H379.46zM381.00 72.20H382.22v13.400H381.00zM386.86 72.20H388.08v13.400H386.86zM407.80 72.20H409.02v13.400H407.80zM414.08 72.20H415.30v13.400H414.08zM415.34 72.20H416.56v13.400H415.34zM418.55 72.20H419.77v13.400H418.55zM428.32 72.20H429.54v13.400H428.32zM446.46 72.20H447.68v13.400H446.46zM418.55 85.60H419.77v13.400H418.55zM438.93 85.60H440.15v13.400H438.93zM440.04 85.60H441.26v13.400H440.04zM447.58 85.60H448.80v13.400H447.58zM465.67 32.00H466.89v13.400H465.67zM467.07 32.00H468.29v13.400H467.07zM538.26 32.00H539.48v13.400H538.26zM491.49 45.40H492.71v13.400H491.49zM511.74 45.40H512.96v13.400H511.74zM518.02 45.40H519.24v13.400H518.02zM519.69 45.40H520.91v13.400H519.69zM478.93 58.80H480.15v13.400H478.93zM481.17 58.80H482.39v13.400H481.17zM482.42 58.80H483.64v13.400H482.42zM526.11 58.80H527.33v13.400H526.11zM528.63 58.80H529.85v13.400H528.63zM530.02 58.80H531.24v13.400H530.02zM460.79 72.20H462.01v13.400H460.79zM481.72 72.20H482.94v13.400H481.72zM505.17 72.20H506.39v13.400H505.17zM507.13 72.20H508.35v13.400H507.13zM510.48 72.20H511.70v13.400H510.48zM511.74 72.20H512.96v13.400H511.74zM460.09 85.60H461.31v13.400H460.09zM471.67 85.60H472.89v13.400H471.67zM513.13 85.60H514.35v13.400H513.13zM519.41 85.60H520.63v13.400H519.41zM526.39 85.60H527.61v13.400H526.39zM548.73 85.60H549.95v13.400H548.73zM198.16 99.00H199.38v13.400H198.16zM199.56 99.00H200.78v13.400H199.56zM202.35 99.00H203.57v13.400H202.35zM213.79 99.00H215.01v13.400H213.79zM215.61 99.00H216.83v13.400H215.61zM231.38 99.00H232.60v13.400H231.38zM252.60 99.00H253.82v13.400H252.60zM266.56 99.00H267.78v13.400H266.56zM269.35 99.00H270.57v13.400H269.35zM272.84 99.00H274.06v13.400H272.84zM277.73 99.00H278.95v13.400H277.73zM279.12 99.00H280.34v13.400H279.12zM196.07 112.40H197.29v13.400H196.07zM207.93 112.40H209.15v13.400H207.93zM210.72 112.40H211.94v13.400H210.72zM221.89 112.40H223.11v13.400H221.89zM228.87 112.40H230.09v13.400H228.87zM236.55 112.40H237.77v13.400H236.55zM243.53 112.40H244.75v13.400H243.53zM255.39 112.40H256.61v13.400H255.39zM277.73 112.40H278.95v13.400H277.73zM226.78 125.80H228.00v13.400H226.78zM191.88 139.20H193.10v13.400H191.88zM193.28 139.20H194.50v13.400H193.28zM208.21 139.20H209.43v13.400H208.21zM209.61 139.20H210.83v13.400H209.61zM215.61 139.20H216.83v13.400H215.61zM218.40 139.20H219.62v13.400H218.40zM235.85 139.20H237.07v13.400H235.85zM237.25 139.20H238.47v13.400H237.25zM192.58 152.60H193.80v13.400H192.58zM197.60 152.60H198.82v13.400H197.60zM199.28 152.60H200.50v13.400H199.28zM200.95 152.60H202.17v13.400H200.95zM206.26 152.60H207.48v13.400H206.26zM215.61 152.60H216.83v13.400H215.61zM244.92 152.60H246.14v13.400H244.92zM257.07 152.60H258.29v13.400H257.07zM265.86 152.60H267.08v13.400H265.86zM272.14 152.60H273.36v13.400H272.14zM279.12 152.60H280.34v13.400H279.12zM290.56 99.00H291.78v13.400H290.56zM293.63 99.00H294.85v13.400H293.63zM294.88 99.00H296.10v13.400H294.88zM310.94 99.00H312.16v13.400H310.94zM312.19 99.00H313.41v13.400H312.19zM324.76 99.00H325.98v13.400H324.76zM330.34 99.00H331.56v13.400H330.34zM337.32 99.00H338.54v13.400H337.32zM338.71 99.00H339.93v13.400H338.71zM355.46 99.00H356.68v13.400H355.46zM368.03 99.00H369.25v13.400H368.03zM283.58 112.40H284.80v13.400H283.58zM284.69 112.40H285.91v13.400H284.69zM316.38 112.40H317.60v13.400H316.38zM332.43 112.40H333.65v13.400H332.43zM300.33 125.80H301.55v13.400H300.33zM347.09 125.80H348.31v13.400H347.09zM284.28 139.20H285.50v13.400H284.28zM317.78 139.20H319.00v13.400H317.78zM332.43 139.20H333.65v13.400H332.43zM351.98 139.20H353.20v13.400H351.98zM367.33 139.20H368.55v13.400H367.33zM288.88 152.60H290.10v13.400H288.88zM290.14 152.60H291.36v13.400H290.14zM299.35 152.60H300.57v13.400H299.35zM300.61 152.60H301.83v13.400H300.61zM304.52 152.60H305.74v13.400H304.52zM305.77 152.60H306.99v13.400H305.77zM313.03 152.60H314.25v13.400H313.03zM314.29 152.60H315.51v13.400H314.29zM345.00 152.60H346.22v13.400H345.00zM363.14 152.60H364.36v13.400H363.14zM364.54 152.60H365.76v13.400H364.54zM381.84 99.00H383.06v13.400H381.84zM394.82 99.00H396.04v13.400H394.82zM411.01 99.00H412.23v13.400H411.01zM412.27 99.00H413.49v13.400H412.27zM415.76 99.00H416.98v13.400H415.76zM430.41 99.00H431.63v13.400H430.41zM435.72 99.00H436.94v13.400H435.72zM441.58 99.00H442.80v13.400H441.58zM448.56 99.00H449.78v13.400H448.56zM454.14 99.00H455.36v13.400H454.14zM399.70 112.40H400.92v13.400H399.70zM419.94 112.40H421.16v13.400H419.94zM427.62 112.40H428.84v13.400H427.62zM442.98 112.40H444.20v13.400H442.98zM461.12 112.40H462.34v13.400H461.12zM373.88 125.80H375.10v13.400H373.88zM410.17 125.80H411.39v13.400H410.17zM372.48 139.20H373.70v13.400H372.48zM376.67 139.20H377.89v13.400H376.67zM382.95 139.20H384.17v13.400H382.95zM404.59 139.20H405.81v13.400H404.59zM419.94 139.20H421.16v13.400H419.94zM428.32 139.20H429.54v13.400H428.32zM433.76 139.20H434.98v13.400H433.76zM435.02 139.20H436.24v13.400H435.02zM449.95 139.20H451.17v13.400H449.95zM451.35 139.20H452.57v13.400H451.35zM459.73 139.20H460.95v13.400H459.73zM371.23 152.60H372.45v13.400H371.23zM372.34 152.60H373.56v13.400H372.34zM389.23 152.60H390.45v13.400H389.23zM415.06 152.60H416.28v13.400H415.06zM426.22 152.60H427.44v13.400H426.22zM442.98 152.60H444.20v13.400H442.98zM446.46 152.60H447.68v13.400H446.46zM453.58 152.60H454.80v13.400H453.58zM454.84 152.60H456.06v13.400H454.84zM459.73 152.60H460.95v13.400H459.73zM475.58 99.00H476.80v13.400H475.58zM476.84 99.00H478.06v13.400H476.84zM494.98 99.00H496.20v13.400H494.98zM516.62 99.00H517.84v13.400H516.62zM548.03 99.00H549.25v13.400H548.03zM462.18 112.40H463.40v13.400H462.18zM497.78 112.40H499.00v13.400H497.78zM505.45 112.40H506.67v13.400H505.45zM519.41 112.40H520.63v13.400H519.41zM523.32 112.40H524.54v13.400H523.32zM524.58 112.40H525.80v13.400H524.58zM535.46 112.40H536.68v13.400H535.46zM543.84 112.40H545.06v13.400H543.84zM547.33 112.40H548.55v13.400H547.33zM508.25 125.80H509.47v13.400H508.25zM461.62 139.20H462.84v13.400H461.62zM462.88 139.20H464.10v13.400H462.88zM470.00 139.20H471.22v13.400H470.00zM471.25 139.20H472.47v13.400H471.25zM505.45 139.20H506.67v13.400H505.45zM514.25 139.20H515.47v13.400H514.25zM529.18 139.20H530.40v13.400H529.18zM531.28 139.20H532.50v13.400H531.28zM540.35 139.20H541.57v13.400H540.35zM542.44 139.20H543.66v13.400H542.44zM460.79 152.60H462.01v13.400H460.79zM476.14 152.60H477.36v13.400H476.14zM481.17 152.60H482.39v13.400H481.17zM482.42 152.60H483.64v13.400H482.42zM496.38 152.60H497.60v13.400H496.38zM507.55 152.60H508.77v13.400H507.55zM525.69 152.60H526.91v13.400H525.69zM544.54 152.60H545.76v13.400H544.54zM209.33 166.00H210.55v13.400H209.33zM210.72 166.00H211.94v13.400H210.72zM243.67 166.00H244.89v13.400H243.67zM244.92 166.00H246.14v13.400H244.92zM265.86 166.00H267.08v13.400H265.86zM241.43 179.40H242.65v13.400H241.43zM243.95 179.40H245.17v13.400H243.95zM200.95 192.80H202.17v13.400H200.95zM203.88 192.80H205.10v13.400H203.88zM205.14 192.80H206.36v13.400H205.14zM249.11 192.80H250.33v13.400H249.11zM250.92 192.80H252.14v13.400H250.92zM262.93 192.80H264.15v13.400H262.93zM264.19 192.80H265.41v13.400H264.19zM276.33 192.80H277.55v13.400H276.33zM198.16 206.20H199.38v13.400H198.16zM199.42 206.20H200.64v13.400H199.42zM223.98 206.20H225.20v13.400H223.98zM226.78 206.20H228.00v13.400H226.78zM249.81 206.20H251.03v13.400H249.81zM271.58 206.20H272.80v13.400H271.58zM272.84 206.20H274.06v13.400H272.84zM199.28 219.60H200.50v13.400H199.28zM208.63 219.60H209.85v13.400H208.63zM210.72 219.60H211.94v13.400H210.72zM228.87 219.60H230.09v13.400H228.87zM245.62 219.60H246.84v13.400H245.62zM254.00 219.60H255.22v13.400H254.00zM255.39 219.60H256.61v13.400H255.39zM280.09 166.00H281.31v13.400H280.09zM284.42 166.00H285.64v13.400H284.42zM285.67 166.00H286.89v13.400H285.67zM289.44 166.00H290.66v13.400H289.44zM299.63 166.00H300.85v13.400H299.63zM302.84 166.00H304.06v13.400H302.84zM314.98 166.00H316.20v13.400H314.98zM320.43 166.00H321.65v13.400H320.43zM321.68 166.00H322.90v13.400H321.68zM326.15 166.00H327.37v13.400H326.15zM332.43 166.00H333.65v13.400H332.43zM343.04 166.00H344.26v13.400H343.04zM344.30 166.00H345.52v13.400H344.30zM340.81 179.40H342.03v13.400H340.81zM290.28 192.80H291.50v13.400H290.28zM303.40 192.80H304.62v13.400H303.40zM311.49 192.80H312.71v13.400H311.49zM347.23 192.80H348.45v13.400H347.23zM348.49 192.80H349.71v13.400H348.49zM360.77 192.80H361.99v13.400H360.77zM366.63 192.80H367.85v13.400H366.63zM292.65 206.20H293.87v13.400H292.65zM295.44 206.20H296.66v13.400H295.44zM322.94 219.60H324.16v13.400H322.94zM331.18 219.60H332.40v13.400H331.18zM332.43 219.60H333.65v13.400H332.43zM380.16 166.00H381.38v13.400H380.16zM381.84 166.00H383.06v13.400H381.84zM385.05 166.00H386.27v13.400H385.05zM399.70 166.00H400.92v13.400H399.70zM410.17 166.00H411.39v13.400H410.17zM421.34 166.00H422.56v13.400H421.34zM442.98 166.00H444.20v13.400H442.98zM444.37 166.00H445.59v13.400H444.37zM446.05 166.00H447.27v13.400H446.05zM459.87 166.00H461.09v13.400H459.87zM461.12 166.00H462.34v13.400H461.12zM423.43 179.40H424.65v13.400H423.43zM430.69 179.40H431.91v13.400H430.69zM373.18 192.80H374.40v13.400H373.18zM376.11 192.80H377.33v13.400H376.11zM377.37 192.80H378.59v13.400H377.37zM380.16 192.80H381.38v13.400H380.16zM389.23 192.80H390.45v13.400H389.23zM402.49 192.80H403.71v13.400H402.49zM407.38 192.80H408.60v13.400H407.38zM426.22 192.80H427.44v13.400H426.22zM432.51 192.80H433.73v13.400H432.51zM437.39 192.80H438.61v13.400H437.39zM441.58 192.80H442.80v13.400H441.58zM450.23 192.80H451.45v13.400H450.23zM455.26 192.80H456.48v13.400H455.26zM458.05 192.80H459.27v13.400H458.05zM394.82 206.20H396.04v13.400H394.82zM417.85 206.20H419.07v13.400H417.85zM430.13 206.20H431.35v13.400H430.13zM431.39 206.20H432.61v13.400H431.39zM435.72 206.20H436.94v13.400H435.72zM371.79 219.60H373.01v13.400H371.79zM396.21 219.60H397.43v13.400H396.21zM446.88 219.60H448.10v13.400H446.88zM450.65 219.60H451.87v13.400H450.65zM460.23 166.00H461.45v13.400H460.23zM461.34 166.00H462.56v13.400H461.34zM478.23 166.00H479.45v13.400H478.23zM481.17 166.00H482.39v13.400H481.17zM482.42 166.00H483.64v13.400H482.42zM485.63 166.00H486.85v13.400H485.63zM489.40 166.00H490.62v13.400H489.40zM492.89 166.00H494.11v13.400H492.89zM500.57 166.00H501.79v13.400H500.57zM502.94 166.00H504.16v13.400H502.94zM504.62 166.00H505.84v13.400H504.62zM511.04 166.00H512.26v13.400H511.04zM526.81 166.00H528.03v13.400H526.81zM535.46 166.00H536.68v13.400H535.46zM543.14 166.00H544.36v13.400H543.14zM548.73 166.00H549.95v13.400H548.73zM524.30 179.40H525.52v13.400H524.30zM467.77 192.80H468.99v13.400H467.77zM495.96 192.80H497.18v13.400H495.96zM498.47 192.80H499.69v13.400H498.47zM508.25 192.80H509.47v13.400H508.25zM543.84 192.80H545.06v13.400H543.84zM535.46 206.20H536.68v13.400H535.46zM540.35 206.20H541.57v13.400H540.35zM461.48 219.60H462.70v13.400H461.48zM471.25 219.60H472.47v13.400H471.25zM480.05 219.60H481.27v13.400H480.05zM491.49 219.60H492.71v13.400H491.49zM516.62 219.60H517.84v13.400H516.62zM523.60 219.60H524.82v13.400H523.60zM534.21 219.60H535.43v13.400H534.21zM535.46 219.60H536.68v13.400H535.46zM547.33 219.60H548.55v13.400H547.33zM225.38 233.00H226.60v13.400H225.38zM193.28 246.40H194.50v13.400H193.28zM204.44 246.40H205.66v13.400H204.44zM217.70 246.40H218.92v13.400H217.70zM219.94 246.40H221.16v13.400H219.94zM221.19 246.40H222.41v13.400H221.19zM235.85 246.40H237.07v13.400H235.85zM237.25 246.40H238.47v13.400H237.25zM240.74 246.40H241.96v13.400H240.74zM273.54 246.40H274.76v13.400H273.54zM276.05 246.40H277.27v13.400H276.05zM193.28 259.80H194.50v13.400H193.28zM207.93 259.80H209.15v13.400H207.93zM209.33 259.80H210.55v13.400H209.33zM213.52 259.80H214.74v13.400H213.52zM215.19 259.80H216.41v13.400H215.19zM219.10 259.80H220.32v13.400H219.10zM237.94 259.80H239.16v13.400H237.94zM254.69 259.80H255.91v13.400H254.69zM257.49 259.80H258.71v13.400H257.49zM272.14 259.80H273.36v13.400H272.14zM273.54 259.80H274.76v13.400H273.54zM214.21 273.20H215.43v13.400H214.21zM217.01 273.20H218.23v13.400H217.01zM247.16 273.20H248.38v13.400H247.16zM248.41 273.20H249.63v13.400H248.41zM264.88 273.20H266.10v13.400H264.88zM277.03 273.20H278.25v13.400H277.03zM190.48 286.60H191.70v13.400H190.48zM202.35 286.60H203.57v13.400H202.35zM209.33 286.60H210.55v13.400H209.33zM214.91 286.60H216.13v13.400H214.91zM233.76 286.60H234.98v13.400H233.76zM245.62 286.60H246.84v13.400H245.62zM256.23 286.60H257.45v13.400H256.23zM257.49 286.60H258.71v13.400H257.49zM316.38 233.00H317.60v13.400H316.38zM280.09 246.40H281.31v13.400H280.09zM291.95 246.40H293.17v13.400H291.95zM301.72 246.40H302.94v13.400H301.72zM308.70 246.40H309.92v13.400H308.70zM342.20 246.40H343.42v13.400H342.20zM343.60 246.40H344.82v13.400H343.60zM350.58 246.40H351.80v13.400H350.58zM362.58 246.40H363.80v13.400H362.58zM363.84 246.40H365.06v13.400H363.84zM367.05 246.40H368.27v13.400H367.05zM293.77 259.80H294.99v13.400H293.77zM307.03 259.80H308.25v13.400H307.03zM310.10 259.80H311.32v13.400H310.10zM315.96 259.80H317.18v13.400H315.96zM321.27 259.80H322.49v13.400H321.27zM324.76 259.80H325.98v13.400H324.76zM327.55 259.80H328.77v13.400H327.55zM333.27 259.80H334.49v13.400H333.27zM334.53 259.80H335.75v13.400H334.53zM342.90 259.80H344.12v13.400H342.90zM349.18 259.80H350.40v13.400H349.18zM353.51 259.80H354.73v13.400H353.51zM354.77 259.80H355.99v13.400H354.77zM370.12 259.80H371.34v13.400H370.12zM285.67 273.20H286.89v13.400H285.67zM292.65 273.20H293.87v13.400H292.65zM297.54 273.20H298.76v13.400H297.54zM303.82 273.20H305.04v13.400H303.82zM336.62 273.20H337.84v13.400H336.62zM355.33 273.20H356.55v13.400H355.33zM356.58 273.20H357.80v13.400H356.58zM368.03 273.20H369.25v13.400H368.03zM316.38 286.60H317.60v13.400H316.38zM343.60 286.60H344.82v13.400H343.60zM364.54 286.60H365.76v13.400H364.54zM370.12 286.60H371.34v13.400H370.12zM399.70 233.00H400.92v13.400H399.70zM382.25 246.40H383.47v13.400H382.25zM391.47 246.40H392.69v13.400H391.47zM392.72 246.40H393.94v13.400H392.72zM402.49 246.40H403.71v13.400H402.49zM405.71 246.40H406.93v13.400H405.71zM453.44 246.40H454.66v13.400H453.44zM408.08 259.80H409.30v13.400H408.08zM414.78 259.80H416.00v13.400H414.78zM419.38 259.80H420.60v13.400H419.38zM420.64 259.80H421.86v13.400H420.64zM426.92 259.80H428.14v13.400H426.92zM441.58 259.80H442.80v13.400H441.58zM450.09 259.80H451.31v13.400H450.09zM451.35 259.80H452.57v13.400H451.35zM454.56 259.80H455.78v13.400H454.56zM455.82 259.80H457.04v13.400H455.82zM457.21 259.80H458.43v13.400H457.21zM460.42 259.80H461.64v13.400H460.42zM377.37 273.20H378.59v13.400H377.37zM379.04 273.20H380.26v13.400H379.04zM394.82 273.20H396.04v13.400H394.82zM401.24 273.20H402.46v13.400H401.24zM402.49 273.20H403.71v13.400H402.49zM418.55 273.20H419.77v13.400H418.55zM432.51 273.20H433.73v13.400H432.51zM457.63 273.20H458.85v13.400H457.63zM383.09 286.60H384.31v13.400H383.09zM384.35 286.60H385.57v13.400H384.35zM470.84 246.40H472.06v13.400H470.84zM472.65 246.40H473.87v13.400H472.65zM478.23 246.40H479.45v13.400H478.23zM481.72 246.40H482.94v13.400H481.72zM527.79 246.40H529.01v13.400H527.79zM543.84 246.40H545.06v13.400H543.84zM460.23 259.80H461.45v13.400H460.23zM461.48 259.80H462.70v13.400H461.48zM471.67 259.80H472.89v13.400H471.67zM473.77 259.80H474.99v13.400H473.77zM487.31 259.80H488.53v13.400H487.31zM491.77 259.80H492.99v13.400H491.77zM497.78 259.80H499.00v13.400H497.78zM501.27 259.80H502.49v13.400H501.27zM504.76 259.80H505.98v13.400H504.76zM508.25 259.80H509.47v13.400H508.25zM515.92 259.80H517.14v13.400H515.92zM523.04 259.80H524.26v13.400H523.04zM524.30 259.80H525.52v13.400H524.30zM529.18 259.80H530.40v13.400H529.18zM531.28 259.80H532.50v13.400H531.28zM535.46 259.80H536.68v13.400H535.46zM546.07 259.80H547.29v13.400H546.07zM547.33 259.80H548.55v13.400H547.33zM466.37 273.20H467.59v13.400H466.37zM540.35 273.20H541.57v13.400H540.35zM477.54 286.60H478.76v13.400H477.54zM480.05 286.60H481.27v13.400H480.05zM508.94 286.60H510.16v13.400H508.94zM511.04 286.60H512.26v13.400H511.04zM223.98 300.00H225.20v13.400H223.98zM226.78 300.00H228.00v13.400H226.78zM246.60 300.00H247.82v13.400H246.60zM247.85 300.00H249.07v13.400H247.85zM257.49 300.00H258.71v13.400H257.49zM267.40 300.00H268.62v13.400H267.40zM268.65 300.00H269.87v13.400H268.65zM277.03 300.00H278.25v13.400H277.03zM259.58 313.40H260.80v13.400H259.58zM262.09 313.40H263.31v13.400H262.09zM274.93 313.40H276.15v13.400H274.93zM190.90 326.80H192.12v13.400H190.90zM200.25 326.80H201.47v13.400H200.25zM211.84 326.80H213.06v13.400H211.84zM202.35 340.20H203.57v13.400H202.35zM208.49 340.20H209.71v13.400H208.49zM209.75 340.20H210.97v13.400H209.75zM214.63 340.20H215.85v13.400H214.63zM216.31 340.20H217.53v13.400H216.31zM220.49 340.20H221.71v13.400H220.49zM243.95 340.20H245.17v13.400H243.95zM252.04 340.20H253.26v13.400H252.04zM253.30 340.20H254.52v13.400H253.30zM256.51 340.20H257.73v13.400H256.51zM257.76 340.20H258.98v13.400H257.76zM265.16 340.20H266.38v13.400H265.16zM196.07 353.60H197.29v13.400H196.07zM200.95 353.60H202.17v13.400H200.95zM228.17 353.60H229.39v13.400H228.17zM231.10 353.60H232.32v13.400H231.10zM232.36 353.60H233.58v13.400H232.36zM250.92 353.60H252.14v13.400H250.92zM252.18 353.60H253.40v13.400H252.18zM264.88 353.60H266.10v13.400H264.88zM273.54 353.60H274.76v13.400H273.54zM291.67 300.00H292.89v13.400H291.67zM294.05 300.00H295.27v13.400H294.05zM295.44 300.00H296.66v13.400H295.44zM296.84 300.00H298.06v13.400H296.84zM309.54 300.00H310.76v13.400H309.54zM310.80 300.00H312.02v13.400H310.80zM319.17 300.00H320.39v13.400H319.17zM330.34 300.00H331.56v13.400H330.34zM334.53 300.00H335.75v13.400H334.53zM342.20 300.00H343.42v13.400H342.20zM327.55 313.40H328.77v13.400H327.55zM354.07 313.40H355.29v13.400H354.07zM287.07 326.80H288.29v13.400H287.07zM297.54 326.80H298.76v13.400H297.54zM312.89 326.80H314.11v13.400H312.89zM318.20 326.80H319.42v13.400H318.20zM320.01 326.80H321.23v13.400H320.01zM321.27 326.80H322.49v13.400H321.27zM329.64 326.80H330.86v13.400H329.64zM345.69 326.80H346.91v13.400H345.69zM348.49 326.80H349.71v13.400H348.49zM364.54 326.80H365.76v13.400H364.54zM295.86 340.20H297.08v13.400H295.86zM300.33 340.20H301.55v13.400H300.33zM318.75 340.20H319.97v13.400H318.75zM320.43 340.20H321.65v13.400H320.43zM328.94 340.20H330.16v13.400H328.94zM337.32 340.20H338.54v13.400H337.32zM355.46 340.20H356.68v13.400H355.46zM281.48 353.60H282.70v13.400H281.48zM292.65 353.60H293.87v13.400H292.65zM305.21 353.60H306.43v13.400H305.21zM308.01 353.60H309.23v13.400H308.01zM340.11 353.60H341.33v13.400H340.11zM350.58 353.60H351.80v13.400H350.58zM356.58 353.60H357.80v13.400H356.58zM363.84 353.60H365.06v13.400H363.84zM368.73 353.60H369.95v13.400H368.73zM396.21 300.00H397.43v13.400H396.21zM399.01 300.00H400.23v13.400H399.01zM403.89 300.00H405.11v13.400H403.89zM441.30 300.00H442.52v13.400H441.30zM407.38 313.40H408.60v13.400H407.38zM419.94 313.40H421.16v13.400H419.94zM371.79 326.80H373.01v13.400H371.79zM376.67 326.80H377.89v13.400H376.67zM381.84 326.80H383.06v13.400H381.84zM397.05 326.80H398.27v13.400H397.05zM398.31 326.80H399.53v13.400H398.31zM402.77 326.80H403.99v13.400H402.77zM418.55 326.80H419.77v13.400H418.55zM432.92 326.80H434.14v13.400H432.92zM441.30 326.80H442.52v13.400H441.30zM448.84 326.80H450.06v13.400H448.84zM451.77 326.80H452.99v13.400H451.77zM456.93 326.80H458.15v13.400H456.93zM459.03 326.80H460.25v13.400H459.03zM384.35 340.20H385.57v13.400H384.35zM390.77 340.20H391.99v13.400H390.77zM392.17 340.20H393.39v13.400H392.17zM396.21 340.20H397.43v13.400H396.21zM401.94 340.20H403.16v13.400H401.94zM403.19 340.20H404.41v13.400H403.19zM419.94 340.20H421.16v13.400H419.94zM431.81 340.20H433.03v13.400H431.81zM447.16 340.20H448.38v13.400H447.16zM458.33 340.20H459.55v13.400H458.33zM372.90 353.60H374.12v13.400H372.90zM375.69 353.60H376.91v13.400H375.69zM378.07 353.60H379.29v13.400H378.07zM380.16 353.60H381.38v13.400H380.16zM389.93 353.60H391.15v13.400H389.93zM403.19 353.60H404.41v13.400H403.19zM407.38 353.60H408.60v13.400H407.38zM411.71 353.60H412.93v13.400H411.71zM412.96 353.60H414.18v13.400H412.96zM426.22 353.60H427.44v13.400H426.22zM438.09 353.60H439.31v13.400H438.09zM440.88 353.60H442.10v13.400H440.88zM443.81 353.60H445.03v13.400H443.81zM445.07 353.60H446.29v13.400H445.07zM455.26 353.60H456.48v13.400H455.26zM459.73 353.60H460.95v13.400H459.73zM469.16 300.00H470.38v13.400H469.16zM471.12 300.00H472.34v13.400H471.12zM472.79 300.00H474.01v13.400H472.79zM476.14 300.00H477.36v13.400H476.14zM525.69 300.00H526.91v13.400H525.69zM531.28 300.00H532.50v13.400H531.28zM541.75 300.00H542.97v13.400H541.75zM544.26 300.00H545.48v13.400H544.26zM516.62 313.40H517.84v13.400H516.62zM541.19 313.40H542.41v13.400H541.19zM542.44 313.40H543.66v13.400H542.44zM471.95 326.80H473.17v13.400H471.95zM475.44 326.80H476.66v13.400H475.44zM481.86 326.80H483.08v13.400H481.86zM483.12 326.80H484.34v13.400H483.12zM496.80 326.80H498.02v13.400H496.80zM502.80 326.80H504.02v13.400H502.80zM504.06 326.80H505.28v13.400H504.06zM525.69 326.80H526.91v13.400H525.69zM535.60 326.80H536.82v13.400H535.60zM536.86 326.80H538.08v13.400H536.86zM543.84 326.80H545.06v13.400H543.84zM477.54 340.20H478.76v13.400H477.54zM510.76 340.20H511.98v13.400H510.76zM530.58 340.20H531.80v13.400H530.58zM534.91 340.20H536.13v13.400H534.91zM536.16 340.20H537.38v13.400H536.16zM485.63 353.60H486.85v13.400H485.63zM496.80 353.60H498.02v13.400H496.80zM498.06 353.60H499.28v13.400H498.06zM508.25 353.60H509.47v13.400H508.25zM512.43 353.60H513.65v13.400H512.43zM514.53 353.60H515.75v13.400H514.53zM197.32 367.00H198.54v13.400H197.32zM202.35 367.00H203.57v13.400H202.35zM218.82 367.00H220.04v13.400H218.82zM223.01 367.00H224.23v13.400H223.01zM233.76 367.00H234.98v13.400H233.76zM239.34 367.00H240.56v13.400H239.34zM249.81 367.00H251.03v13.400H249.81zM256.09 367.00H257.31v13.400H256.09zM251.76 380.40H252.98v13.400H251.76zM253.02 380.40H254.24v13.400H253.02zM265.16 380.40H266.38v13.400H265.16zM234.45 393.80H235.67v13.400H234.45zM243.53 393.80H244.75v13.400H243.53zM225.38 407.20H226.60v13.400H225.38zM254.69 407.20H255.91v13.400H254.69zM264.88 407.20H266.10v13.400H264.88zM270.75 407.20H271.97v13.400H270.75zM193.28 420.60H194.50v13.400H193.28zM198.86 420.60H200.08v13.400H198.86zM200.25 420.60H201.47v13.400H200.25zM212.82 420.60H214.04v13.400H212.82zM228.17 420.60H229.39v13.400H228.17zM233.06 420.60H234.28v13.400H233.06zM237.94 420.60H239.16v13.400H237.94zM251.20 420.60H252.42v13.400H251.20zM254.69 420.60H255.91v13.400H254.69zM256.79 420.60H258.01v13.400H256.79zM258.88 420.60H260.10v13.400H258.88zM300.33 367.00H301.55v13.400H300.33zM336.62 367.00H337.84v13.400H336.62zM342.90 367.00H344.12v13.400H342.90zM348.21 367.00H349.43v13.400H348.21zM305.21 380.40H306.43v13.400H305.21zM363.56 380.40H364.78v13.400H363.56zM364.82 380.40H366.04v13.400H364.82zM280.93 393.80H282.15v13.400H280.93zM282.18 393.80H283.40v13.400H282.18zM287.77 393.80H288.99v13.400H287.77zM303.96 393.80H305.18v13.400H303.96zM305.21 393.80H306.43v13.400H305.21zM310.66 393.80H311.88v13.400H310.66zM311.91 393.80H313.13v13.400H311.91zM321.41 393.80H322.63v13.400H321.41zM322.66 393.80H323.88v13.400H322.66zM327.55 393.80H328.77v13.400H327.55zM352.53 393.80H353.75v13.400H352.53zM353.79 393.80H355.01v13.400H353.79zM316.24 407.20H317.46v13.400H316.24zM317.50 407.20H318.72v13.400H317.50zM280.79 420.60H282.01v13.400H280.79zM294.88 420.60H296.10v13.400H294.88zM296.14 420.60H297.36v13.400H296.14zM309.82 420.60H311.04v13.400H309.82zM314.98 420.60H316.20v13.400H314.98zM319.87 420.60H321.09v13.400H319.87zM334.25 420.60H335.47v13.400H334.25zM335.92 420.60H337.14v13.400H335.92zM340.81 420.60H342.03v13.400H340.81zM352.81 420.60H354.03v13.400H352.81zM354.07 420.60H355.29v13.400H354.07zM365.93 420.60H367.15v13.400H365.93zM376.67 367.00H377.89v13.400H376.67zM387.84 367.00H389.06v13.400H387.84zM391.33 367.00H392.55v13.400H391.33zM396.91 367.00H398.13v13.400H396.91zM399.98 367.00H401.20v13.400H399.98zM417.85 367.00H419.07v13.400H417.85zM419.52 367.00H420.74v13.400H419.52zM434.32 367.00H435.54v13.400H434.32zM438.09 367.00H439.31v13.400H438.09zM444.37 367.00H445.59v13.400H444.37zM452.05 367.00H453.27v13.400H452.05zM373.88 380.40H375.10v13.400H373.88zM375.42 380.40H376.64v13.400H375.42zM389.23 380.40H390.45v13.400H389.23zM391.61 380.40H392.83v13.400H391.61zM431.81 380.40H433.03v13.400H431.81zM445.77 380.40H446.99v13.400H445.77zM375.28 393.80H376.50v13.400H375.28zM419.94 393.80H421.16v13.400H419.94zM455.54 393.80H456.76v13.400H455.54zM403.89 407.20H405.11v13.400H403.89zM418.55 407.20H419.77v13.400H418.55zM423.43 407.20H424.65v13.400H423.43zM439.21 407.20H440.43v13.400H439.21zM450.65 407.20H451.87v13.400H450.65zM373.88 420.60H375.10v13.400H373.88zM379.04 420.60H380.26v13.400H379.04zM390.07 420.60H391.29v13.400H390.07zM391.33 420.60H392.55v13.400H391.33zM397.61 420.60H398.83v13.400H397.61zM406.96 420.60H408.18v13.400H406.96zM410.17 420.60H411.39v13.400H410.17zM425.95 420.60H427.17v13.400H425.95zM437.11 420.60H438.33v13.400H437.11zM446.88 420.60H448.10v13.400H446.88zM452.75 420.60H453.97v13.400H452.75zM470.00 367.00H471.22v13.400H470.00zM471.25 367.00H472.47v13.400H471.25zM511.04 367.00H512.26v13.400H511.04zM525.69 367.00H526.91v13.400H525.69zM529.88 367.00H531.10v13.400H529.88zM532.67 367.00H533.89v13.400H532.67zM546.77 367.00H547.99v13.400H546.77zM548.03 367.00H549.25v13.400H548.03zM490.80 380.40H492.02v13.400H490.80zM504.06 380.40H505.28v13.400H504.06zM507.69 380.40H508.91v13.400H507.69zM508.94 380.40H510.16v13.400H508.94zM544.26 380.40H545.48v13.400H544.26zM476.14 393.80H477.36v13.400H476.14zM486.75 393.80H487.97v13.400H486.75zM488.01 393.80H489.23v13.400H488.01zM494.98 393.80H496.20v13.400H494.98zM516.62 393.80H517.84v13.400H516.62zM523.04 393.80H524.26v13.400H523.04zM524.30 393.80H525.52v13.400H524.30zM539.65 393.80H540.87v13.400H539.65zM486.75 407.20H487.97v13.400H486.75zM488.01 407.20H489.23v13.400H488.01zM524.44 407.20H525.66v13.400H524.44zM525.69 407.20H526.91v13.400H525.69zM460.79 420.60H462.01v13.400H460.79zM476.42 420.60H477.64v13.400H476.42zM483.82 420.60H485.04v13.400H483.82zM497.22 420.60H498.44v13.400H497.22zM498.47 420.60H499.69v13.400H498.47zM512.43 420.60H513.65v13.400H512.43zM519.41 420.60H520.63v13.400H519.41zM542.86 420.60H544.08v13.400H542.86zM547.33 420.60H548.55v13.400H547.33z"/><path fill="#424086" d="M205.42 32.00H206.64v13.400H205.42zM245.06 32.00H246.28v13.400H245.06zM226.78 58.80H228.00v13.400H226.78zM206.82 72.20H208.04v13.400H206.82zM247.30 72.20H248.52v13.400H247.30zM331.04 32.00H332.26v13.400H331.04zM361.75 32.00H362.97v13.400H361.75zM355.88 58.80H357.10v13.400H355.88zM292.93 72.20H294.15v13.400H292.93zM305.21 72.20H306.43v13.400H305.21zM287.77 85.60H288.99v13.400H287.77zM382.95 45.40H384.17v13.400H382.95zM400.82 45.40H402.04v13.400H400.82zM458.05 58.80H459.27v13.400H458.05zM393.84 72.20H395.06v13.400H393.84zM421.76 72.20H422.98v13.400H421.76zM439.21 72.20H440.43v13.400H439.21zM526.67 32.00H527.89v13.400H526.67zM544.82 45.40H546.04v13.400H544.82zM463.86 58.80H465.08v13.400H463.86zM468.88 72.20H470.10v13.400H468.88zM548.73 72.20H549.95v13.400H548.73zM194.67 99.00H195.89v13.400H194.67zM191.18 112.40H192.40v13.400H191.18zM260.98 112.40H262.20v13.400H260.98zM257.49 125.80H258.71v13.400H257.49zM199.28 139.20H200.50v13.400H199.28zM222.31 139.20H223.53v13.400H222.31zM248.83 139.20H250.05v13.400H248.83zM250.79 139.20H252.01v13.400H250.79zM202.77 152.60H203.99v13.400H202.77zM227.89 152.60H229.11v13.400H227.89zM232.78 152.60H234.00v13.400H232.78zM259.86 152.60H261.08v13.400H259.86zM303.82 99.00H305.04v13.400H303.82zM361.75 99.00H362.97v13.400H361.75zM288.04 112.40H289.26v13.400H288.04zM303.82 125.80H305.04v13.400H303.82zM301.72 139.20H302.94v13.400H301.72zM357.84 139.20H359.06v13.400H357.84zM309.82 152.60H311.04v13.400H309.82zM360.77 152.60H361.99v13.400H360.77zM397.19 99.00H398.41v13.400H397.19zM398.45 99.00H399.67v13.400H398.45zM457.91 99.00H459.13v13.400H457.91zM434.32 112.40H435.54v13.400H434.32zM378.77 125.80H379.99v13.400H378.77zM446.88 125.80H448.10v13.400H446.88zM395.66 139.20H396.88v13.400H395.66zM396.91 139.20H398.13v13.400H396.91zM408.78 139.20H410.00v13.400H408.78zM424.83 139.20H426.05v13.400H424.83zM431.11 139.20H432.33v13.400H431.11zM384.77 152.60H385.99v13.400H384.77zM407.38 152.60H408.60v13.400H407.38zM410.87 152.60H412.09v13.400H410.87zM438.23 152.60H439.45v13.400H438.23zM439.49 152.60H440.71v13.400H439.49zM526.81 99.00H528.03v13.400H526.81zM486.47 112.40H487.69v13.400H486.47zM487.73 112.40H488.95v13.400H487.73zM538.95 112.40H540.17v13.400H538.95zM481.03 139.20H482.25v13.400H481.03zM464.28 152.60H465.50v13.400H464.28zM488.70 152.60H489.92v13.400H488.70zM517.32 152.60H518.54v13.400H517.32zM533.65 152.60H534.87v13.400H533.65zM205.84 166.00H207.06v13.400H205.84zM218.82 166.00H220.04v13.400H218.82zM276.33 166.00H277.55v13.400H276.33zM197.88 192.80H199.10v13.400H197.88zM217.01 192.80H218.23v13.400H217.01zM238.92 192.80H240.14v13.400H238.92zM191.88 219.60H193.10v13.400H191.88zM249.81 219.60H251.03v13.400H249.81zM261.67 219.60H262.89v13.400H261.67zM292.93 192.80H294.15v13.400H292.93zM308.01 192.80H309.23v13.400H308.01zM370.82 192.80H372.04v13.400H370.82zM398.31 166.00H399.53v13.400H398.31zM413.94 166.00H415.16v13.400H413.94zM385.88 192.80H387.10v13.400H385.88zM387.14 192.80H388.36v13.400H387.14zM444.23 192.80H445.45v13.400H444.23zM445.49 192.80H446.71v13.400H445.49zM414.08 219.60H415.30v13.400H414.08zM518.02 166.00H519.24v13.400H518.02zM532.67 166.00H533.89v13.400H532.67zM464.97 192.80H466.19v13.400H464.97zM489.82 192.80H491.04v13.400H489.82zM474.05 219.60H475.27v13.400H474.05zM494.98 219.60H496.20v13.400H494.98zM270.75 246.40H271.97v13.400H270.75zM199.28 259.80H200.50v13.400H199.28zM245.34 259.80H246.56v13.400H245.34zM269.77 259.80H270.99v13.400H269.77zM278.42 259.80H279.64v13.400H278.42zM279.68 259.80H280.90v13.400H279.68zM328.94 246.40H330.16v13.400H328.94zM358.12 246.40H359.34v13.400H358.12zM359.37 246.40H360.59v13.400H359.37zM280.09 259.80H281.31v13.400H280.09zM281.34 259.80H282.56v13.400H281.34zM290.56 259.80H291.78v13.400H290.56zM317.78 259.80H319.00v13.400H317.78zM330.76 259.80H331.98v13.400H330.76zM358.12 259.80H359.34v13.400H358.12zM359.37 259.80H360.59v13.400H359.37zM311.49 273.20H312.71v13.400H311.49zM340.81 273.20H342.03v13.400H340.81zM345.00 273.20H346.22v13.400H345.00zM383.93 246.40H385.15v13.400H383.93zM430.83 246.40H432.05v13.400H430.83zM381.84 259.80H383.06v13.400H381.84zM429.71 273.20H430.93v13.400H429.71zM370.81 286.60H372.03v13.400H370.81zM438.65 286.60H439.87v13.400H438.65zM439.90 286.60H441.12v13.400H439.90zM442.70 286.60H443.92v13.400H442.70zM489.82 246.40H491.04v13.400H489.82zM513.69 246.40H514.91v13.400H513.69zM514.95 246.40H516.17v13.400H514.95zM548.73 246.40H549.95v13.400H548.73zM466.37 259.80H467.59v13.400H466.37zM468.88 259.80H470.10v13.400H468.88zM518.02 259.80H519.24v13.400H518.02zM540.21 259.80H541.43v13.400H540.21zM541.47 259.80H542.69v13.400H541.47zM472.93 286.60H474.15v13.400H472.93zM537.56 286.60H538.78v13.400H537.56zM217.01 326.80H218.23v13.400H217.01zM226.78 326.80H228.00v13.400H226.78zM264.88 326.80H266.10v13.400H264.88zM269.63 326.80H270.85v13.400H269.63zM205.84 353.60H207.06v13.400H205.84zM289.16 300.00H290.38v13.400H289.16zM303.82 300.00H305.04v13.400H303.82zM313.59 300.00H314.81v13.400H313.59zM339.13 300.00H340.35v13.400H339.13zM345.00 300.00H346.22v13.400H345.00zM281.90 313.40H283.12v13.400H281.90zM358.81 313.40H360.03v13.400H358.81zM360.07 313.40H361.29v13.400H360.07zM335.92 326.80H337.14v13.400H335.92zM354.77 326.80H355.99v13.400H354.77zM361.75 326.80H362.97v13.400H361.75zM368.03 326.80H369.25v13.400H368.03zM314.98 353.60H316.20v13.400H314.98zM375.28 300.00H376.50v13.400H375.28zM417.71 300.00H418.93v13.400H417.71zM418.97 300.00H420.19v13.400H418.97zM422.18 326.80H423.40v13.400H422.18zM423.43 326.80H424.65v13.400H423.43zM480.75 300.00H481.97v13.400H480.75zM528.90 300.00H530.12v13.400H528.90zM484.79 313.40H486.01v13.400H484.79zM478.93 326.80H480.15v13.400H478.93zM467.77 353.60H468.99v13.400H467.77zM534.07 353.60H535.29v13.400H534.07zM544.54 353.60H545.76v13.400H544.54zM194.81 367.00H196.03v13.400H194.81zM196.07 367.00H197.29v13.400H196.07zM210.17 367.00H211.39v13.400H210.17zM211.42 367.00H212.64v13.400H211.42zM221.89 380.40H223.11v13.400H221.89zM259.58 380.40H260.80v13.400H259.58zM271.03 380.40H272.25v13.400H271.03zM254.69 393.80H255.91v13.400H254.69zM266.84 393.80H268.06v13.400H266.84zM240.87 407.20H242.09v13.400H240.87zM242.13 407.20H243.35v13.400H242.13zM292.93 367.00H294.15v13.400H292.93zM308.01 367.00H309.23v13.400H308.01zM360.77 367.00H361.99v13.400H360.77zM367.05 367.00H368.27v13.400H367.05zM356.58 393.80H357.80v13.400H356.58zM338.71 420.60H339.93v13.400H338.71zM359.09 420.60H360.31v13.400H359.09zM360.35 420.60H361.57v13.400H360.35zM370.82 420.60H372.04v13.400H370.82zM383.93 367.00H385.15v13.400H383.93zM430.83 367.00H432.05v13.400H430.83zM449.68 380.40H450.90v13.400H449.68zM450.93 380.40H452.15v13.400H450.93zM413.94 393.80H415.16v13.400H413.94zM436.97 407.20H438.19v13.400H436.97zM442.70 407.20H443.92v13.400H442.70zM501.27 367.00H502.49v13.400H501.27zM496.80 380.40H498.02v13.400H496.80zM512.85 380.40H514.07v13.400H512.85zM541.75 393.80H542.97v13.400H541.75zM532.39 407.20H533.61v13.400H532.39zM467.77 420.60H468.99v13.400H467.77zM489.82 420.60H491.04v13.400H489.82zM532.25 420.60H533.47v13.400H532.25zM534.77 420.60H535.99v13.400H534.77z"/><path fill="#375b8d" d="M204.44 32.00H205.66v13.400H204.44zM215.19 72.20H216.41v13.400H215.19zM279.40 72.20H280.62v13.400H279.40zM309.82 45.40H311.04v13.400H309.82zM346.95 45.40H348.17v13.400H346.95zM279.81 72.20H281.03v13.400H279.81zM302.84 72.20H304.06v13.400H302.84zM321.27 72.20H322.49v13.400H321.27zM365.93 72.20H367.15v13.400H365.93zM414.78 32.00H416.00v13.400H414.78zM438.51 32.00H439.73v13.400H438.51zM439.76 32.00H440.98v13.400H439.76zM447.58 45.40H448.80v13.400H447.58zM385.05 72.20H386.27v13.400H385.05zM410.87 72.20H412.09v13.400H410.87zM482.14 32.00H483.36v13.400H482.14zM490.38 32.00H491.60v13.400H490.38zM493.59 32.00H494.81v13.400H493.59zM501.55 32.00H502.77v13.400H501.55zM533.79 45.40H535.01v13.400H533.79zM477.82 72.20H479.04v13.400H477.82zM484.79 72.20H486.01v13.400H484.79zM495.96 72.20H497.18v13.400H495.96zM515.92 72.20H517.14v13.400H515.92zM538.68 72.20H539.90v13.400H538.68zM477.82 85.60H479.04v13.400H477.82zM226.78 99.00H228.00v13.400H226.78zM244.92 99.00H246.14v13.400H244.92zM213.24 139.20H214.46v13.400H213.24zM271.44 139.20H272.66v13.400H271.44zM324.76 125.80H325.98v13.400H324.76zM359.23 125.80H360.45v13.400H359.23zM423.15 99.00H424.37v13.400H423.15zM447.86 112.40H449.08v13.400H447.86zM424.83 125.80H426.05v13.400H424.83zM444.09 139.20H445.31v13.400H444.09zM503.36 99.00H504.58v13.400H503.36zM493.73 112.40H494.95v13.400H493.73zM512.85 112.40H514.07v13.400H512.85zM484.79 125.80H486.01v13.400H484.79zM508.25 139.20H509.47v13.400H508.25zM468.46 152.60H469.68v13.400H468.46zM510.76 152.60H511.98v13.400H510.76zM196.77 166.00H197.99v13.400H196.77zM255.95 166.00H257.17v13.400H255.95zM359.23 166.00H360.45v13.400H359.23zM327.27 179.40H328.49v13.400H327.27zM311.49 206.20H312.71v13.400H311.49zM358.68 206.20H359.90v13.400H358.68zM359.93 206.20H361.15v13.400H359.93zM317.78 219.60H319.00v13.400H317.78zM369.42 219.60H370.64v13.400H369.42zM437.11 166.00H438.33v13.400H437.11zM370.81 192.80H372.03v13.400H370.81zM427.34 219.60H428.56v13.400H427.34zM468.04 166.00H469.26v13.400H468.04zM506.01 219.60H507.23v13.400H506.01zM507.27 219.60H508.49v13.400H507.27zM190.90 246.40H192.12v13.400H190.90zM231.38 246.40H232.60v13.400H231.38zM248.83 246.40H250.05v13.400H248.83zM223.98 273.20H225.20v13.400H223.98zM252.32 286.60H253.54v13.400H252.32zM291.95 286.60H293.17v13.400H291.95zM309.82 286.60H311.04v13.400H309.82zM335.92 286.60H337.14v13.400H335.92zM351.98 286.60H353.20v13.400H351.98zM411.29 246.40H412.51v13.400H411.29zM412.55 246.40H413.77v13.400H412.55zM449.68 246.40H450.90v13.400H449.68zM450.93 246.40H452.15v13.400H450.93zM398.87 259.80H400.09v13.400H398.87zM411.29 259.80H412.51v13.400H411.29zM435.72 259.80H436.94v13.400H435.72zM464.00 246.40H465.22v13.400H464.00zM482.14 259.80H483.36v13.400H482.14zM517.74 273.20H518.96v13.400H517.74zM532.67 286.60H533.89v13.400H532.67zM206.96 300.00H208.18v13.400H206.96zM223.98 326.80H225.20v13.400H223.98zM246.18 326.80H247.40v13.400H246.18zM247.44 326.80H248.66v13.400H247.44zM189.90 353.60H191.01v13.400H189.90zM324.76 300.00H325.98v13.400H324.76zM370.82 300.00H372.04v13.400H370.82zM294.88 326.80H296.10v13.400H294.88zM296.00 326.80H297.22v13.400H296.00zM342.48 326.80H343.70v13.400H342.48zM343.74 326.80H344.96v13.400H343.74zM287.77 340.20H288.99v13.400H287.77zM424.83 300.00H426.05v13.400H424.83zM400.82 313.40H402.04v13.400H400.82zM429.99 313.40H431.21v13.400H429.99zM394.82 326.80H396.04v13.400H394.82zM453.86 326.80H455.08v13.400H453.86zM424.83 340.20H426.05v13.400H424.83zM400.82 353.60H402.04v13.400H400.82zM429.99 353.60H431.21v13.400H429.99zM494.98 300.00H496.20v13.400H494.98zM517.74 300.00H518.96v13.400H517.74zM468.88 313.40H470.10v13.400H468.88zM465.81 326.80H467.03v13.400H465.81zM467.07 326.80H468.29v13.400H467.07zM520.81 353.60H522.03v13.400H520.81zM229.57 367.00H230.79v13.400H229.57zM227.89 393.80H229.11v13.400H227.89zM190.07 420.60H191.29v13.400H190.07zM204.16 420.60H205.38v13.400H204.16zM205.42 420.60H206.64v13.400H205.42zM266.84 420.60H268.06v13.400H266.84zM283.72 367.00H284.94v13.400H283.72zM284.97 367.00H286.19v13.400H284.97zM322.94 367.00H324.16v13.400H322.94zM340.53 380.40H341.75v13.400H340.53zM338.99 393.80H340.21v13.400H338.99zM296.84 407.20H298.06v13.400H296.84zM306.89 420.60H308.11v13.400H306.89zM362.86 420.60H364.08v13.400H362.86zM379.88 367.00H381.10v13.400H379.88zM381.14 367.00H382.36v13.400H381.14zM427.76 367.00H428.98v13.400H427.76zM429.02 367.00H430.24v13.400H429.02zM461.82 367.00H463.04v13.400H461.82zM393.84 380.40H395.06v13.400H393.84zM447.86 407.20H449.08v13.400H447.86zM370.81 420.60H372.03v13.400H370.81zM461.90 367.00H463.12v13.400H461.90zM492.19 367.00H493.41v13.400H492.19zM505.45 367.00H506.67v13.400H505.45zM537.56 367.00H538.78v13.400H537.56z"/><path fill="#2e6e8e" d="M237.94 32.00H239.16v13.400H237.94zM328.94 45.40H330.16v13.400H328.94zM399.01 32.00H400.23v13.400H399.01zM228.87 166.00H230.09v13.400H228.87zM206.96 219.60H208.18v13.400H206.96zM313.73 219.60H314.95v13.400H313.73zM402.49 206.20H403.71v13.400H402.49zM408.78 219.60H410.00v13.400H408.78zM484.93 206.20H486.15v13.400H484.93zM317.78 246.40H319.00v13.400H317.78zM424.83 246.40H426.05v13.400H424.83zM435.72 246.40H436.94v13.400H435.72zM412.55 259.80H413.77v13.400H412.55zM424.83 273.20H426.05v13.400H424.83zM512.85 259.80H514.07v13.400H512.85zM513.69 286.60H514.91v13.400H513.69zM514.95 286.60H516.17v13.400H514.95zM271.86 367.00H273.08v13.400H271.86zM232.78 393.80H234.00v13.400H232.78zM312.89 367.00H314.11v13.400H312.89zM324.90 407.20H326.12v13.400H324.90zM522.90 367.00H524.12v13.400H522.90z"/><path fill="#2c728e" d="M329.00 112.40H329.90v13.400H329.00z"/><path fill="#26818e" d="M211.84 32.00H213.06v13.400H211.84zM269.77 32.00H270.99v13.400H269.77zM345.00 72.20H346.22v13.400H345.00zM531.98 32.00H533.20v13.400H531.98zM497.92 45.40H499.14v13.400H497.92zM499.17 45.40H500.39v13.400H499.17zM532.67 85.60H533.89v13.400H532.67zM412.96 139.20H414.18v13.400H412.96zM271.86 219.60H273.08v13.400H271.86zM274.93 219.60H276.15v13.400H274.93zM484.93 192.80H486.15v13.400H484.93zM525.83 192.80H527.05v13.400H525.83zM231.38 259.80H232.60v13.400H231.38zM355.88 300.00H357.10v13.400H355.88zM295.44 313.40H296.66v13.400H295.44zM484.93 340.20H486.15v13.400H484.93zM191.88 367.00H193.10v13.400H191.88zM242.83 367.00H244.05v13.400H242.83zM263.49 367.00H264.71v13.400H263.49zM331.46 367.00H332.68v13.400H331.46zM332.71 367.00H333.93v13.400H332.71zM295.02 393.80H296.24v13.400H295.02zM296.14 393.80H297.36v13.400H296.14zM408.78 367.00H410.00v13.400H408.78zM472.93 393.80H474.15v13.400H472.93zM472.93 407.20H474.15v13.400H472.93zM493.87 420.60H495.09v13.400H493.87z"/><path fill="#23898e" d="M387.84 32.00H389.06v13.400H387.84zM436.69 32.00H437.91v13.400H436.69zM453.86 72.20H455.08v13.400H453.86zM203.60 139.20H204.82v13.400H203.60zM204.72 139.20H205.94v13.400H204.72zM230.82 139.20H232.04v13.400H230.82zM231.94 139.20H233.16v13.400H231.94zM328.94 139.20H330.16v13.400H328.94zM335.92 152.60H337.14v13.400H335.92zM351.84 152.60H353.06v13.400H351.84zM387.84 112.40H389.06v13.400H387.84zM411.99 139.20H413.21v13.400H411.99zM466.37 99.00H467.59v13.400H466.37zM489.82 139.20H491.04v13.400H489.82zM536.86 152.60H538.08v13.400H536.86zM201.65 166.00H202.87v13.400H201.65zM282.88 219.60H284.10v13.400H282.88zM350.86 219.60H352.08v13.400H350.86zM400.82 219.60H402.04v13.400H400.82zM430.97 219.60H432.19v13.400H430.97zM520.81 286.60H522.03v13.400H520.81z"/><path fill="#34b679" d="M288.88 72.20H290.10v13.400H288.88zM290.00 72.20H291.22v13.400H290.00zM429.85 219.60H431.07v13.400H429.85zM194.95 300.00H196.17v13.400H194.95z"/><path fill="#60ca60" d="M507.80 300.00H510.00v13.400H507.80z"/><path fill="#e7e419" d="M387.90 420.60H389.20v13.400H387.90z"/><path fill="#fde725" d="M326.90 112.40H329.00v13.400H326.90z"/><defs><linearGradient id="g" x1="0" y1="0" x2="0" y2="1"><stop offset="0.00" stop-color="#fde725"/><stop offset="0.05" stop-color="#dfe318"/><stop offset="0.10" stop-color="#bddf26"/><stop offset="0.15" stop-color="#9bd93c"/><stop offset="0.20" stop-color="#7ad151"/><stop offset="0.25" stop-color="#5ec962"/><stop offset="0.30" stop-color="#44bf70"/><stop offset="0.35" stop-color="#2fb47c"/><stop offset="0.40" stop-color="#22a884"/><stop offset="0.45" stop-color="#1e9c89"/><stop offset="0.50" stop-color="#21918c"/><stop offset="0.55" stop-color="#25848e"/><stop offset="0.60" stop-color="#2a788e"/><stop offset="0.65" stop-color="#2f6c8e"/><stop offset="0.70" stop-color="#355f8d"/><stop offset="0.75" stop-color="#3b528b"/><stop offset="0.80" stop-color="#414487"/><stop offset="0.85" stop-color="#463480"/><stop offset="0.90" stop-color="#482475"/><stop offset="0.95" stop-color="#471365"/><stop offset="1.00" stop-color="#440154"/></linearGradient></defs><rect x="591.1" y="186.75" width="23.2" height="115.05" fill="url(#g)"/><line x1="591.1" x2="595.7" y1="301.80" y2="301.80" stroke="#fff" stroke-width="0.7"/><line x1="609.7" x2="614.3000000000001" y1="301.80" y2="301.80" stroke="#fff" stroke-width="0.7"/><line x1="591.1" x2="595.7" y1="280.09" y2="280.09" stroke="#fff" stroke-width="0.7"/><line x1="609.7" x2="614.3000000000001" y1="280.09" y2="280.09" stroke="#fff" stroke-width="0.7"/><line x1="591.1" x2="595.7" y1="258.38" y2="258.38" stroke="#fff" stroke-width="0.7"/><line x1="609.7" x2="614.3000000000001" y1="258.38" y2="258.38" stroke="#fff" stroke-width="0.7"/><line x1="591.1" x2="595.7" y1="236.68" y2="236.68" stroke="#fff" stroke-width="0.7"/><line x1="609.7" x2="614.3000000000001" y1="236.68" y2="236.68" stroke="#fff" stroke-width="0.7"/><line x1="591.1" x2="595.7" y1="214.97" y2="214.97" stroke="#fff" stroke-width="0.7"/><line x1="609.7" x2="614.3000000000001" y1="214.97" y2="214.97" stroke="#fff" stroke-width="0.7"/><line x1="591.1" x2="595.7" y1="193.26" y2="193.26" stroke="#fff" stroke-width="0.7"/><line x1="609.7" x2="614.3000000000001" y1="193.26" y2="193.26" stroke="#fff" stroke-width="0.7"/></svg><div class="t" style="left:170.30px;width:400px;text-align:center;top:13.87px;font-size:11.73px;line-height:11.73px;color:#1a1a1a;transform:scaleY(1.12);transform-origin:50% 9.93px;">mask_aggregate</div><div class="t" style="right:507.37px;top:33.57px;font-size:11.73px;line-height:11.73px;color:#4d4d4d;text-align:right;transform:scaleY(1.12);transform-origin:50% 9.93px;letter-spacing:0.026px">YearsWithCurrManager</div><div class="t" style="right:507.23px;top:46.97px;font-size:11.73px;line-height:11.73px;color:#4d4d4d;text-align:right;transform:scaleY(1.12);transform-origin:50% 9.93px;letter-spacing:0.170px">YearsSinceLastPromotion</div><div class="t" style="right:507.37px;top:60.37px;font-size:11.73px;line-height:11.73px;color:#4d4d4d;text-align:right;transform:scaleY(1.12);transform-origin:50% 9.93px;letter-spacing:0.029px">YearsInCurrentRole</div><div class="t" style="right:507.44px;top:73.77px;font-size:11.73px;line-height:11.73px;color:#4d4d4d;text-align:right;transform:scaleY(1.12);transform-origin:50% 9.93px;letter-spacing:-0.038px">YearsAtCompany</div><div class="t" style="right:507.20px;top:87.17px;font-size:11.73px;line-height:11.73px;color:#4d4d4d;text-align:right;transform:scaleY(1.12);transform-origin:50% 9.93px;letter-spacing:0.196px">WorkLifeBalance</div><div class="t" style="right:507.35px;top:100.57px;font-size:11.73px;line-height:11.73px;color:#4d4d4d;text-align:right;transform:scaleY(1.12);transform-origin:50% 9.93px;letter-spacing:0.050px">TrainingTimesLastYear</div><div class="t" style="right:507.40px;top:113.97px;font-size:11.73px;line-height:11.73px;color:#4d4d4d;text-align:right;transform:scaleY(1.12);transform-origin:50% 9.93px;letter-spacing:-0.000px">TotalWorkingYears</div><div class="t" style="right:507.37px;top:127.37px;font-size:11.73px;line-height:11.73px;color:#4d4d4d;text-align:right;transform:scaleY(1.12);transform-origin:50% 9.93px;letter-spacing:0.033px">StockOptionLevel</div><div class="t" style="right:507.29px;top:140.77px;font-size:11.73px;line-height:11.73px;color:#4d4d4d;text-align:right;transform:scaleY(1.12);transform-origin:50% 9.93px;letter-spacing:0.109px">RelationshipSatisfaction</div><div class="t" style="right:507.31px;top:154.17px;font-size:11.73px;line-height:11.73px;color:#4d4d4d;text-align:right;transform:scaleY(1.12);transform-origin:50% 9.93px;letter-spacing:0.094px">PerformanceRating</div><div class="t" style="right:507.26px;top:167.57px;font-size:11.73px;line-height:11.73px;color:#4d4d4d;text-align:right;transform:scaleY(1.12);transform-origin:50% 9.93px;letter-spacing:0.141px">PercentSalaryHike</div><div class="t" style="right:507.11px;top:180.97px;font-size:11.73px;line-height:11.73px;color:#4d4d4d;text-align:right;transform:scaleY(1.12);transform-origin:50% 9.93px;letter-spacing:0.286px">OverTime</div><div class="t" style="right:507.19px;top:194.37px;font-size:11.73px;line-height:11.73px;color:#4d4d4d;text-align:right;transform:scaleY(1.12);transform-origin:50% 9.93px;letter-spacing:0.206px">NumCompaniesWorked</div><div class="t" style="right:507.38px;top:207.77px;font-size:11.73px;line-height:11.73px;color:#4d4d4d;text-align:right;transform:scaleY(1.12);transform-origin:50% 9.93px;letter-spacing:0.025px">MonthlyRate</div><div class="t" style="right:507.11px;top:221.17px;font-size:11.73px;line-height:11.73px;color:#4d4d4d;text-align:right;transform:scaleY(1.12);transform-origin:50% 9.93px;letter-spacing:0.292px">MonthlyIncome</div><div class="t" style="right:507.25px;top:234.57px;font-size:11.73px;line-height:11.73px;color:#4d4d4d;text-align:right;transform:scaleY(1.12);transform-origin:50% 9.93px;letter-spacing:0.146px">MaritalStatus</div><div class="t" style="right:507.22px;top:247.97px;font-size:11.73px;line-height:11.73px;color:#4d4d4d;text-align:right;transform:scaleY(1.12);transform-origin:50% 9.93px;letter-spacing:0.179px">JobSatisfaction</div><div class="t" style="right:507.07px;top:261.37px;font-size:11.73px;line-height:11.73px;color:#4d4d4d;text-align:right;transform:scaleY(1.12);transform-origin:50% 9.93px;letter-spacing:0.333px">JobRole</div><div class="t" style="right:507.40px;top:274.77px;font-size:11.73px;line-height:11.73px;color:#4d4d4d;text-align:right;transform:scaleY(1.12);transform-origin:50% 9.93px;letter-spacing:-0.000px">JobLevel</div><div class="t" style="right:507.17px;top:288.17px;font-size:11.73px;line-height:11.73px;color:#4d4d4d;text-align:right;transform:scaleY(1.12);transform-origin:50% 9.93px;letter-spacing:0.231px">JobInvolvement</div><div class="t" style="right:507.32px;top:301.57px;font-size:11.73px;line-height:11.73px;color:#4d4d4d;text-align:right;transform:scaleY(1.12);transform-origin:50% 9.93px;letter-spacing:0.083px">HourlyRate</div><div class="t" style="right:507.10px;top:314.97px;font-size:11.73px;line-height:11.73px;color:#4d4d4d;text-align:right;transform:scaleY(1.12);transform-origin:50% 9.93px;letter-spacing:0.300px">Gender</div><div class="t" style="right:507.24px;top:328.37px;font-size:11.73px;line-height:11.73px;color:#4d4d4d;text-align:right;transform:scaleY(1.12);transform-origin:50% 9.93px;letter-spacing:0.159px">EnvironmentSatisfaction</div><div class="t" style="right:507.21px;top:341.77px;font-size:11.73px;line-height:11.73px;color:#4d4d4d;text-align:right;transform:scaleY(1.12);transform-origin:50% 9.93px;letter-spacing:0.192px">EducationField</div><div class="t" style="right:507.09px;top:355.17px;font-size:11.73px;line-height:11.73px;color:#4d4d4d;text-align:right;transform:scaleY(1.12);transform-origin:50% 9.93px;letter-spacing:0.312px">Education</div><div class="t" style="right:507.17px;top:368.57px;font-size:11.73px;line-height:11.73px;color:#4d4d4d;text-align:right;transform:scaleY(1.12);transform-origin:50% 9.93px;letter-spacing:0.233px">DistanceFromHome</div><div class="t" style="right:507.23px;top:381.97px;font-size:11.73px;line-height:11.73px;color:#4d4d4d;text-align:right;transform:scaleY(1.12);transform-origin:50% 9.93px;letter-spacing:0.167px">Department</div><div class="t" style="right:507.49px;top:395.37px;font-size:11.73px;line-height:11.73px;color:#4d4d4d;text-align:right;transform:scaleY(1.12);transform-origin:50% 9.93px;letter-spacing:-0.094px">DailyRate</div><div class="t" style="right:507.37px;top:408.77px;font-size:11.73px;line-height:11.73px;color:#4d4d4d;text-align:right;transform:scaleY(1.12);transform-origin:50% 9.93px;letter-spacing:0.031px">BusinessTravel</div><div class="t" style="right:507.60px;top:422.17px;font-size:11.73px;line-height:11.73px;color:#4d4d4d;text-align:right;transform:scaleY(1.12);transform-origin:50% 9.93px;letter-spacing:-0.200px">Age</div><div class="t" style="left:-11.20px;width:400px;text-align:center;top:440.67px;font-size:11.73px;line-height:11.73px;color:#4d4d4d;transform:scaleY(1.12);transform-origin:50% 9.93px;">0</div><div class="t" style="left:111.87px;width:400px;text-align:center;top:440.67px;font-size:11.73px;line-height:11.73px;color:#4d4d4d;transform:scaleY(1.12);transform-origin:50% 9.93px;">100</div><div class="t" style="left:234.94px;width:400px;text-align:center;top:440.67px;font-size:11.73px;line-height:11.73px;color:#4d4d4d;transform:scaleY(1.12);transform-origin:50% 9.93px;">200</div><div class="t" style="left:358.01px;width:400px;text-align:center;top:440.67px;font-size:11.73px;line-height:11.73px;color:#4d4d4d;transform:scaleY(1.12);transform-origin:50% 9.93px;">300</div><div class="t" style="left:170.30px;width:400px;text-align:center;top:456.78px;font-size:14.67px;line-height:14.67px;color:#000;transform:scaleY(1.06);transform-origin:50% 12.42px;">rowname</div><div class="t" style="left:-181.90px;top:220.78px;width:400px;text-align:center;font-size:14.67px;line-height:14.67px;transform-origin:200px 12.42px;transform:rotate(-90deg) scaleY(1.06);color:#000">variable</div><div class="t" style="left:591.90px;top:165.78px;font-size:14.67px;line-height:14.67px;color:#000;transform:scaleY(1.06);transform-origin:50% 12.42px;letter-spacing:-0.1px">mask_agg</div><div class="t" style="left:622.00px;top:296.47px;font-size:11.73px;line-height:11.73px;color:#000;transform:scaleY(1.12);transform-origin:50% 9.93px;">0</div><div class="t" style="left:622.00px;top:274.76px;font-size:11.73px;line-height:11.73px;color:#000;transform:scaleY(1.12);transform-origin:50% 9.93px;">1</div><div class="t" style="left:622.00px;top:253.06px;font-size:11.73px;line-height:11.73px;color:#000;transform:scaleY(1.12);transform-origin:50% 9.93px;">2</div><div class="t" style="left:622.00px;top:231.35px;font-size:11.73px;line-height:11.73px;color:#000;transform:scaleY(1.12);transform-origin:50% 9.93px;">3</div><div class="t" style="left:622.00px;top:209.64px;font-size:11.73px;line-height:11.73px;color:#000;transform:scaleY(1.12);transform-origin:50% 9.93px;">4</div><div class="t" style="left:622.00px;top:187.93px;font-size:11.73px;line-height:11.73px;color:#000;transform:scaleY(1.12);transform-origin:50% 9.93px;">5</div></body></html>
